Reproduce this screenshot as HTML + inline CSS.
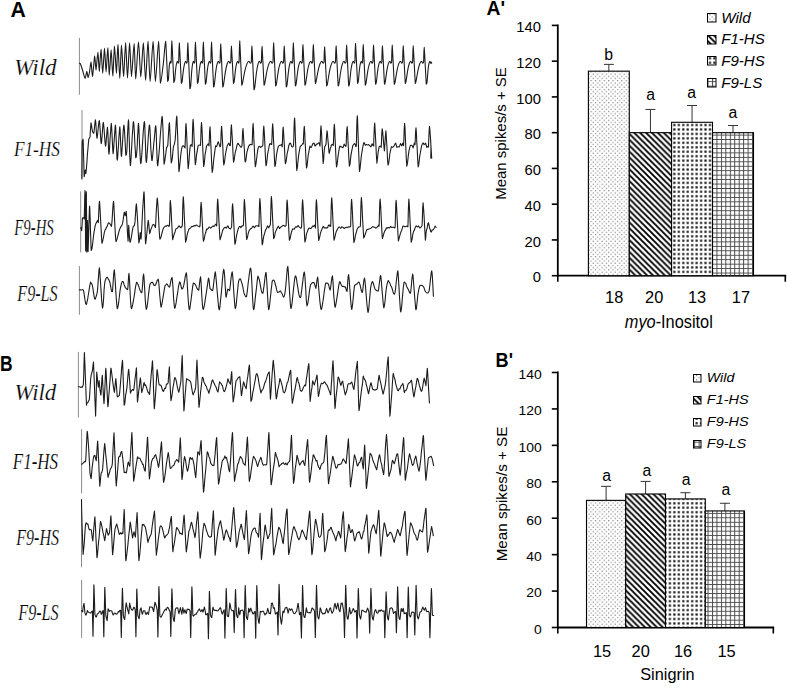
<!DOCTYPE html><html><head><meta charset="utf-8"><style>html,body{margin:0;padding:0;background:#fff;overflow:hidden;width:787px;height:688px;}svg{display:block;}</style></head><body>
<svg width="787" height="688" viewBox="0 0 787 688">
<defs>
<pattern id="pw" patternUnits="userSpaceOnUse" width="4.4" height="4.4" x="0" y="0"><rect x="1" y="1" width="1" height="1" fill="#5a5a5a"/><rect x="3.2" y="3.2" width="1" height="1" fill="#5a5a5a"/></pattern>
<pattern id="pf1" patternUnits="userSpaceOnUse" width="5.9" height="5.9"><path d="M-1,-1L6.9,6.9M-1,4.9L1,6.9M4.9,-1L6.9,1" stroke="#000" stroke-width="1.9"/></pattern>
<pattern id="pf9h" patternUnits="userSpaceOnUse" x="0.2" y="2.65" width="4.45" height="4.45"><rect x="1.15" y="1.15" width="2.15" height="2.15" fill="#111"/></pattern>
<pattern id="pf9l" patternUnits="userSpaceOnUse" y="1.15" width="4.45" height="4.45"><path d="M0,0.5H4.45M0.5,0V4.45" stroke="#484848" stroke-width="1"/></pattern>
<pattern id="lpw" patternUnits="userSpaceOnUse" width="3" height="3"><rect x="1" y="1" width="1" height="1" fill="#777"/></pattern>
</defs>
<rect width="787" height="688" fill="#fff"/>
<text x="10.4" y="16.6" font-family="Liberation Sans" font-size="21.2" font-weight="bold" font-style="normal" text-anchor="start" fill="#000" >A</text>
<text x="0" y="370.8" font-family="Liberation Sans" font-size="21.8" font-weight="bold" font-style="normal" text-anchor="start" fill="#000" textLength="12.6" lengthAdjust="spacingAndGlyphs">B</text>
<text x="486.6" y="15.2" font-family="Liberation Sans" font-size="19.8" font-weight="bold" font-style="normal" text-anchor="start" fill="#000" textLength="18.6" lengthAdjust="spacingAndGlyphs">A'</text>
<text x="495.6" y="367.4" font-family="Liberation Sans" font-size="21" font-weight="bold" font-style="normal" text-anchor="start" fill="#000" textLength="17.4" lengthAdjust="spacingAndGlyphs">B'</text>
<text x="14.2" y="74.6" font-family="Liberation Serif" font-size="22.42" font-weight="normal" font-style="italic" text-anchor="start" fill="#000" textLength="42.5" lengthAdjust="spacingAndGlyphs" stroke="#fff" stroke-width="0.2">Wild</text>
<text x="13.9" y="156.2" font-family="Liberation Serif" font-size="21.52" font-weight="normal" font-style="italic" text-anchor="start" fill="#000" textLength="46.1" lengthAdjust="spacingAndGlyphs" stroke="#fff" stroke-width="0.2">F1-HS</text>
<text x="14.3" y="234.8" font-family="Liberation Serif" font-size="23.64" font-weight="normal" font-style="italic" text-anchor="start" fill="#000" textLength="39.4" lengthAdjust="spacingAndGlyphs" stroke="#fff" stroke-width="0.2">F9-HS</text>
<text x="17.3" y="300.5" font-family="Liberation Serif" font-size="22.58" font-weight="normal" font-style="italic" text-anchor="start" fill="#000" textLength="40.3" lengthAdjust="spacingAndGlyphs" stroke="#fff" stroke-width="0.2">F9-LS</text>
<text x="14.4" y="400.2" font-family="Liberation Serif" font-size="22.88" font-weight="normal" font-style="italic" text-anchor="start" fill="#000" textLength="41.9" lengthAdjust="spacingAndGlyphs" stroke="#fff" stroke-width="0.2">Wild</text>
<text x="12.8" y="468.8" font-family="Liberation Serif" font-size="23.94" font-weight="normal" font-style="italic" text-anchor="start" fill="#000" textLength="45.3" lengthAdjust="spacingAndGlyphs" stroke="#fff" stroke-width="0.2">F1-HS</text>
<text x="16.3" y="544.8" font-family="Liberation Serif" font-size="23.18" font-weight="normal" font-style="italic" text-anchor="start" fill="#000" textLength="42.7" lengthAdjust="spacingAndGlyphs" stroke="#fff" stroke-width="0.2">F9-HS</text>
<text x="18.3" y="619.7" font-family="Liberation Serif" font-size="23.48" font-weight="normal" font-style="italic" text-anchor="start" fill="#000" textLength="40.3" lengthAdjust="spacingAndGlyphs" stroke="#fff" stroke-width="0.2">F9-LS</text>
<line x1="79.4" y1="37.9" x2="79.4" y2="94.8" stroke="#8c8c8c" stroke-width="1"/>
<line x1="82" y1="110" x2="82" y2="177.8" stroke="#8c8c8c" stroke-width="1"/>
<line x1="80.7" y1="191.4" x2="80.7" y2="252.4" stroke="#8c8c8c" stroke-width="1"/>
<line x1="79.4" y1="266" x2="79.4" y2="314.8" stroke="#8c8c8c" stroke-width="1"/>
<line x1="78.4" y1="351.9" x2="78.4" y2="417.6" stroke="#8c8c8c" stroke-width="1"/>
<line x1="81.6" y1="429.1" x2="81.6" y2="493.4" stroke="#8c8c8c" stroke-width="1"/>
<line x1="81.5" y1="499.2" x2="81.5" y2="567.2" stroke="#8c8c8c" stroke-width="1"/>
<line x1="81.6" y1="579.9" x2="81.6" y2="637.9" stroke="#8c8c8c" stroke-width="1"/>
<path d="M79.4,63.3C79.53,63.35 79.99,63.3 80.4,63.7C80.81,64.59 81.87,68.05 82.5,70C83.13,71.95 84.53,78.13 85.1,78.3C85.67,78.3 86.4,71.39 86.8,71.3C87.2,71.3 87.74,77.51 88.1,77.6C88.46,77.6 89.11,74.07 89.5,72C89.89,69.93 90.6,62.1 91,62.1C91.4,62.69 92.01,76.4 92.5,76.4C92.99,75.59 94.23,56.85 94.7,56C95.17,56 95.57,70 96,70C96.43,69.49 97.46,52.2 97.9,52.2C98.34,52.37 98.89,71.3 99.3,71.3C99.71,70.91 100.55,49.3 101,49.3C101.45,49.55 102.23,73.2 102.7,73.2C103.17,73.05 104.05,48.37 104.5,48.2C104.95,48.2 105.66,71.9 106.1,71.9C106.54,71.85 107.37,47.8 107.8,47.8C108.23,48.23 108.86,74.82 109.3,75.1C109.74,75.1 110.63,49.9 111.1,49.9C111.57,50.02 112.35,76 112.8,76C113.25,75.52 114.02,46.67 114.5,46.3C114.98,46.3 115.95,73.2 116.4,73.2C116.85,72.97 117.45,44.6 117.9,44.6C118.35,45.28 119.32,78.22 119.8,78.3C120.28,78.3 120.99,45.45 121.5,45.2C122.01,45.2 123.05,76.4 123.6,76.4C124.15,76.07 125.08,42.7 125.6,42.7C126.12,42.91 126.97,77.96 127.5,78C128.03,78 129.07,43.21 129.6,43C130.13,43 130.9,76.31 131.5,76.4C132.1,76.4 133.54,43.7 134.1,43.7C134.66,44.03 135.11,78.9 135.7,78.9C136.29,78.69 137.82,42.35 138.5,42.1C139.18,42.1 140.16,76.88 140.8,77C141.44,77 142.66,43 143.3,43C143.94,43.43 144.97,80.2 145.6,80.2C146.23,79.99 147.4,41.4 148,41.4C148.6,41.57 149.42,81.5 150.1,81.5C150.78,81.5 152.39,41.4 153.1,41.4C153.81,41.4 154.67,81.5 155.4,81.5C156.13,81.5 157.92,41.4 158.6,41.4C159.28,41.61 159.85,80.35 160.5,83.1C161.15,83.1 162.82,67.59 163.5,62C164.18,56.41 165.04,41.2 165.6,41.2C166.16,43.8 167.32,76.42 167.7,81.5C168.08,81.5 168.27,80.95 168.45,79.3C168.63,77.65 168.89,71.26 169.05,69.15C169.21,67.04 169.46,64.5 169.62,63.45C169.79,62.4 170.16,61.32 170.32,61.3C170.49,61.3 170.73,63.21 170.85,63.3C170.97,63.3 171.07,63.3 171.2,62C171.33,58.99 171.44,40.7 171.8,40.7C172.16,43.43 173.52,77.22 173.9,82.5C174.28,82.5 174.42,82.03 174.65,80.3C174.88,78.57 175.39,71.74 175.64,69.5C175.89,67.26 176.29,64.59 176.54,63.5C176.79,62.41 177.28,61.33 177.5,61.3C177.72,61.3 178.06,63.21 178.22,63.3C178.38,63.3 178.56,63.3 178.7,62C178.84,59.27 178.94,42.8 179.3,42.8C179.66,45.65 181.02,78.28 181.4,83.4C181.78,83.4 181.88,83.01 182.15,81.2C182.42,79.39 183.11,72.17 183.44,69.81C183.77,67.46 184.28,64.68 184.59,63.55C184.9,62.41 185.48,61.33 185.75,61.3C186.02,61.3 186.43,63.21 186.62,63.3C186.81,63.3 187.04,63.3 187.2,62C187.36,59.27 187.44,42.8 187.8,42.8C188.16,46.36 189.52,82.87 189.9,88.7C190.28,88.7 190.41,88.7 190.65,86.5C190.89,84.23 191.41,74.7 191.67,71.67C191.93,68.64 192.34,65.19 192.59,63.81C192.85,62.43 193.35,61.37 193.57,61.3C193.8,61.3 194.15,63.21 194.31,63.3C194.47,63.3 194.65,63.3 194.8,62C194.95,59.17 195.04,42.1 195.4,42.1C195.76,44.95 197.12,78.19 197.5,83.4C197.88,83.4 198,83.01 198.25,81.2C198.5,79.39 199.08,72.17 199.36,69.81C199.64,67.46 200.09,64.68 200.36,63.55C200.63,62.41 201.16,61.33 201.4,61.3C201.64,61.3 202.01,63.21 202.18,63.3C202.35,63.3 202.55,63.3 202.7,62C202.85,59.17 202.94,42.1 203.3,42.1C203.66,45.07 205.02,78.97 205.4,84.3C205.78,84.3 205.89,83.99 206.15,82.1C206.41,80.21 207.05,72.6 207.35,70.13C207.65,67.66 208.14,64.77 208.43,63.59C208.72,62.41 209.27,61.34 209.53,61.3C209.78,61.3 210.17,63.21 210.35,63.3C210.53,63.3 210.75,63.3 210.9,62C211.05,59.17 211.14,42.1 211.5,42.1C211.86,45.43 213.22,81.31 213.6,87C213.98,87 214.05,86.92 214.35,84.8C214.65,82.68 215.47,73.89 215.85,71.08C216.23,68.27 216.82,65.03 217.17,63.73C217.52,62.42 218.17,61.36 218.47,61.3C218.78,61.3 219.23,63.21 219.45,63.3C219.67,63.3 219.93,63.3 220.1,62C220.27,59.41 220.34,43.9 220.7,43.9C221.06,47.23 222.42,81.55 222.8,87C223.18,87 223.19,86.92 223.55,84.8C223.91,82.68 225.01,73.89 225.5,71.08C225.99,68.27 226.76,65.03 227.2,63.73C227.64,62.42 228.43,61.36 228.8,61.3C229.17,61.3 229.73,63.21 230,63.3C230.27,63.3 230.61,63.3 230.8,62C230.99,59.69 231.04,46 231.4,46C231.76,48.85 233.12,78.71 233.5,83.4C233.88,83.4 233.99,83.01 234.25,81.2C234.51,79.39 235.17,72.17 235.48,69.81C235.79,67.46 236.28,64.68 236.58,63.55C236.88,62.41 237.44,61.33 237.7,61.3C237.96,61.3 238.35,63.21 238.54,63.3C238.73,63.3 238.95,63.3 239.1,62C239.25,58.99 239.34,40.7 239.7,40.7C240.06,43.79 241.42,79.56 241.8,85.2C242.18,85.2 242.13,84.97 242.55,83C242.97,81.03 244.35,73.03 244.95,70.44C245.55,67.86 246.5,64.85 247.03,63.63C247.56,62.42 248.48,61.34 248.92,61.3C249.37,61.3 250.03,63.21 250.35,63.3C250.67,63.3 251.09,63.3 251.3,62C251.51,59.69 251.54,46 251.9,46C252.26,49.68 253.62,84.08 254,89.6C254.38,89.6 254.41,89.6 254.75,87.4C255.09,85.05 256.08,75.12 256.52,71.98C256.96,68.85 257.67,65.28 258.07,63.85C258.47,62.43 259.2,61.37 259.55,61.3C259.9,61.3 260.41,63.21 260.66,63.3C260.91,63.3 261.22,63.3 261.4,62C261.58,59.75 261.64,46.4 262,46.4C262.36,49.49 263.72,80.32 264.1,85.2C264.48,85.2 264.45,84.97 264.85,83C265.25,81.03 266.52,73.03 267.07,70.44C267.62,67.86 268.5,64.85 269,63.63C269.49,62.42 270.36,61.34 270.78,61.3C271.19,61.3 271.81,63.21 272.11,63.3C272.41,63.3 272.8,63.3 273,62C273.2,59.27 273.24,42.8 273.6,42.8C273.96,46 275.32,80.53 275.7,86C276.08,86 276.09,85.84 276.45,83.8C276.81,81.76 277.89,73.41 278.37,70.72C278.85,68.04 279.61,64.93 280.05,63.67C280.48,62.42 281.26,61.35 281.62,61.3C281.99,61.3 282.55,63.21 282.81,63.3C283.07,63.3 283.41,63.3 283.6,62C283.79,59.69 283.84,46 284.2,46C284.56,49.33 285.92,81.83 286.3,87C286.68,87 286.75,86.92 287.05,84.8C287.35,82.68 288.15,73.89 288.52,71.08C288.89,68.27 289.48,65.03 289.82,63.73C290.16,62.42 290.8,61.36 291.1,61.3C291.4,61.3 291.85,63.21 292.06,63.3C292.27,63.3 292.53,63.3 292.7,62C292.87,59.27 292.94,42.8 293.3,42.8C293.66,46 295.02,80.53 295.4,86C295.78,86 295.83,85.84 296.15,83.8C296.47,81.76 297.36,73.41 297.77,70.72C298.18,68.04 298.82,64.93 299.19,63.67C299.57,62.42 300.25,61.35 300.57,61.3C300.9,61.3 301.38,63.21 301.61,63.3C301.84,63.3 302.13,63.3 302.3,62C302.47,59.51 302.54,44.6 302.9,44.6C303.26,47.69 304.62,80.08 305,85.2C305.38,85.2 305.4,84.97 305.75,83C306.1,81.03 307.15,73.03 307.61,70.44C308.07,67.86 308.81,64.85 309.24,63.63C309.66,62.42 310.42,61.34 310.78,61.3C311.13,61.3 311.67,63.21 311.93,63.3C312.19,63.3 312.52,63.3 312.7,62C312.88,59.51 312.94,44.6 313.3,44.6C313.66,47.45 315.02,78.52 315.4,83.4C315.78,83.4 315.77,83.01 316.15,81.2C316.53,79.39 317.75,72.17 318.28,69.81C318.81,67.46 319.65,64.68 320.13,63.55C320.61,62.41 321.45,61.33 321.85,61.3C322.25,61.3 322.85,63.21 323.14,63.3C323.43,63.3 323.81,63.3 324,62C324.19,59.81 324.24,46.9 324.6,46.9C324.96,50.1 326.32,81.08 326.7,86C327.08,86 327.06,85.84 327.45,83.8C327.84,81.76 329.09,73.41 329.64,70.72C330.19,68.04 331.05,64.93 331.54,63.67C332.03,62.42 332.89,61.35 333.3,61.3C333.71,61.3 334.33,63.21 334.62,63.3C334.91,63.3 335.3,63.3 335.5,62C335.7,59.65 335.74,45.7 336.1,45.7C336.46,48.9 337.82,80.92 338.2,86C338.58,86 338.6,85.84 338.95,83.8C339.3,81.76 340.37,73.41 340.84,70.72C341.31,68.04 342.06,64.93 342.49,63.67C342.92,62.42 343.69,61.35 344.05,61.3C344.41,61.3 344.96,63.21 345.22,63.3C345.48,63.3 345.82,63.3 346,62C346.18,59.57 346.24,45.1 346.6,45.1C346.96,48.3 348.32,80.84 348.7,86C349.08,86 349.16,85.84 349.45,83.8C349.74,81.76 350.51,73.41 350.86,70.72C351.21,68.04 351.78,64.93 352.11,63.67C352.44,62.42 353.06,61.35 353.35,61.3C353.64,61.3 354.07,63.21 354.28,63.3C354.49,63.3 354.74,63.3 354.9,62C355.06,59.33 355.14,43.3 355.5,43.3C355.86,46.15 357.22,78.35 357.6,83.4C357.98,83.4 358.11,83.01 358.35,81.2C358.59,79.39 359.13,72.17 359.4,69.81C359.67,67.46 360.09,64.68 360.35,63.55C360.61,62.41 361.12,61.33 361.35,61.3C361.58,61.3 361.93,63.21 362.1,63.3C362.27,63.3 362.45,63.3 362.6,62C362.75,59.51 362.84,44.6 363.2,44.6C363.56,47.69 364.92,80.08 365.3,85.2C365.68,85.2 365.71,84.97 366.05,83C366.39,81.03 367.42,73.03 367.88,70.44C368.34,67.86 369.06,64.85 369.48,63.63C369.9,62.42 370.65,61.34 371,61.3C371.35,61.3 371.89,63.21 372.14,63.3C372.39,63.3 372.72,63.3 372.9,62C373.08,59.57 373.14,45.1 373.5,45.1C373.86,48.07 375.22,79.37 375.6,84.3C375.98,84.3 376.06,83.99 376.35,82.1C376.64,80.21 377.41,72.6 377.76,70.13C378.11,67.66 378.68,64.77 379.01,63.59C379.34,62.41 379.96,61.34 380.25,61.3C380.54,61.3 380.97,63.21 381.18,63.3C381.39,63.3 381.64,63.3 381.8,62C381.96,59.65 382.04,45.7 382.4,45.7C382.76,48.67 384.12,79.45 384.5,84.3C384.88,84.3 384.93,83.99 385.25,82.1C385.57,80.21 386.51,72.6 386.93,70.13C387.35,67.66 388.02,64.77 388.41,63.59C388.79,62.41 389.49,61.34 389.82,61.3C390.16,61.3 390.65,63.21 390.89,63.3C391.13,63.3 391.43,63.3 391.6,62C391.77,59.57 391.84,45.1 392.2,45.1C392.56,48.07 393.92,79.37 394.3,84.3C394.68,84.3 394.68,83.99 395.05,82.1C395.42,80.21 396.58,72.6 397.09,70.13C397.6,67.66 398.41,64.77 398.87,63.59C399.32,62.41 400.14,61.34 400.53,61.3C400.91,61.3 401.49,63.21 401.77,63.3C402.05,63.3 402.41,63.3 402.6,62C402.79,59.65 402.84,45.7 403.2,45.7C403.56,48.55 404.92,78.67 405.3,83.4C405.68,83.4 405.72,83.01 406.05,81.2C406.38,79.39 407.35,72.17 407.79,69.81C408.23,67.46 408.92,64.68 409.31,63.55C409.71,62.41 410.43,61.33 410.78,61.3C411.12,61.3 411.63,63.21 411.87,63.3C412.11,63.3 412.42,63.3 412.6,62C412.78,59.65 412.84,45.7 413.2,45.7C413.56,48.55 414.92,78.67 415.3,83.4C415.68,83.4 415.68,83.01 416.05,81.2C416.42,79.39 417.58,72.17 418.09,69.81C418.6,67.46 419.41,64.68 419.87,63.55C420.32,62.41 421.14,61.33 421.53,61.3C421.91,61.3 422.49,63.21 422.77,63.3C423.05,63.3 423.41,63.3 423.6,62C423.79,59.88 423.84,47.4 424.2,47.4C424.56,50.37 425.92,79.67 426.3,84.3C426.68,84.3 426.82,83.99 427.05,82.1C427.28,80.21 427.79,72.6 428.04,70.13C428.29,67.66 428.69,64.77 428.94,63.59C429.19,62.41 429.68,61.34 429.9,61.3C430.12,61.3 430.46,63.21 430.62,63.3C430.78,63.3 430.96,62 431.1,62C431.24,62 431.62,63.13 431.7,63.3" fill="none" stroke="#1c1c1c" stroke-width="1.1" stroke-linejoin="round" stroke-linecap="round"/>
<path d="M81.9,178.9 81.9,171.8 82.0,161.1 82.0,152.9 82.1,145.6 82.3,140.9 82.7,140.3 83.1,139.3 83.3,144.4 83.5,152.9 83.8,162.9 84.0,171.6 84.2,176.7 84.7,173.7 85.2,170.1 85.5,171.8 85.9,173.5 86.3,169.8 86.8,163.8 87.2,157.9 87.5,153.2 88.0,148.0 88.4,143.0 88.7,139.5 89.4,138.1 90.0,136.9 90.5,129.1 91.0,122.9 91.5,125.1 92.0,128.8 92.5,131.7 93.1,132.7 93.8,133.2 94.3,129.2 94.9,123.2 95.4,119.8 95.8,122.9 96.2,129.3 96.6,135.5 97.0,138.3 97.4,136.2 97.9,131.5 98.4,126.2 98.9,122.0 99.3,120.6 99.7,123.4 100.1,128.9 100.5,135.5 100.9,141.1 101.2,143.7 101.6,141.9 102.0,136.9 102.5,130.1 102.9,124.5 103.3,122.3 103.6,124.1 104.0,128.4 104.4,133.9 104.8,139.5 105.2,144.0 105.5,146.2 105.9,144.5 106.3,139.4 106.8,133.5 107.2,129.0 107.5,127.2 107.8,130.7 108.1,137.7 108.4,145.7 108.7,151.9 109.0,154.3 109.3,151.5 109.7,145.2 110.1,138.0 110.6,131.3 111.0,125.8 111.3,123.4 111.6,126.5 112.0,133.8 112.4,142.7 112.8,150.4 113.1,153.8 113.4,151.6 113.8,146.4 114.2,139.7 114.7,133.1 115.1,127.5 115.4,125.1 115.7,127.4 115.9,132.8 116.2,139.9 116.5,147.3 116.8,153.8 117.0,158.6 117.3,160.1 117.6,158.2 117.9,153.9 118.2,149.0 118.6,143.6 118.9,137.7 119.3,132.4 119.6,128.5 119.8,126.8 120.1,129.7 120.4,137.1 120.8,146.0 121.1,153.4 121.4,156.5 121.7,154.7 122.0,150.3 122.4,144.5 122.8,137.9 123.2,131.3 123.6,126.6 123.9,125.0 124.2,127.3 124.6,132.0 124.9,138.3 125.3,145.2 125.6,151.5 125.8,155.2 126.3,154.9 126.8,151.4 127.1,146.1 127.4,137.8 127.8,129.2 128.2,122.5 128.5,119.9 128.7,122.6 128.9,128.2 129.1,135.7 129.4,143.8 129.6,151.9 129.9,158.9 130.2,163.7 130.4,165.6 130.6,164.2 130.9,160.8 131.2,155.8 131.5,149.7 131.9,143.4 132.2,137.0 132.6,131.3 132.9,126.7 133.2,123.3 133.4,121.5 133.7,122.9 134.1,127.7 134.5,134.9 134.8,142.5 135.2,149.0 135.5,154.1 135.7,157.6 136.2,157.2 136.6,154.1 137.0,149.3 137.3,144.8 137.5,138.4 137.9,131.7 138.2,125.9 138.5,123.3 138.7,125.5 139.0,130.2 139.2,136.6 139.5,143.9 139.9,151.1 140.2,157.4 140.5,161.9 140.8,163.7 141.1,162.6 141.4,159.3 141.8,154.6 142.2,148.6 142.6,142.1 143.0,135.8 143.4,130.0 143.8,125.5 144.1,122.6 144.4,121.6 144.7,123.7 144.9,128.6 145.1,135.3 145.4,142.6 145.6,150.0 145.8,156.5 146.1,160.9 146.3,162.5 146.6,160.8 146.9,157.5 147.2,153.1 147.6,147.6 148.0,141.2 148.4,135.2 148.8,130.3 149.1,126.9 149.4,125.0 149.7,126.0 150.0,129.8 150.3,136.0 150.6,143.1 150.9,149.4 151.3,154.7 151.6,158.5 151.9,160.6 152.2,160.1 152.5,157.4 152.9,153.1 153.4,148.2 153.8,143.1 154.3,138.5 154.7,134.5 155.1,129.9 155.4,126.6 155.7,125.7 156.0,128.5 156.3,134.5 156.5,142.5 156.8,151.0 157.1,158.9 157.4,164.1 157.7,165.8 157.9,164.4 158.2,162.0 158.5,158.4 158.9,154.2 159.3,149.8 159.7,144.5 160.1,138.5 160.5,133.0 160.9,128.3 161.3,123.8 161.6,119.8 161.9,117.1 162.1,116.3 162.4,118.4 162.7,123.6 163.0,130.5 163.2,138.5 163.4,146.8 163.7,154.6 163.9,160.7 164.1,164.2 164.4,163.2 164.9,160.0 165.3,156.6 165.8,153.9 166.2,150.3 166.5,147.5 167.2,146.8 167.8,145.6 168.1,140.0 168.6,132.2 169.0,125.4 169.4,122.7 169.6,125.3 169.8,130.2 170.1,136.2 170.3,142.8 170.6,149.3 170.8,155.4 171.1,160.3 171.3,162.9 171.7,161.7 172.2,158.8 172.7,154.3 173.1,149.7 173.5,146.4 174.4,144.1 175.2,139.9 175.6,133.9 176.0,125.9 176.4,118.8 176.8,116.1 177.0,119.0 177.2,124.4 177.5,131.5 177.8,139.7 178.0,148.2 178.3,156.3 178.6,163.5 178.8,168.8 179.0,171.7 179.5,167.9 180.1,161.9 180.6,156.5 181.1,152.2 181.7,148.7 182.2,146.5 182.9,145.9 183.6,145.8 184.3,147.1 185.0,147.8 185.2,142.7 185.5,134.5 185.7,126.9 186.0,123.5 186.2,126.1 186.5,131.1 186.8,137.9 187.1,145.6 187.4,153.3 187.7,160.2 188.0,165.6 188.2,168.6 188.8,163.6 189.3,156.0 189.8,150.1 190.3,145.6 191.1,144.7 191.7,145.2 191.9,145.9 192.1,146.5 192.3,141.2 192.5,132.1 192.8,123.5 193.1,119.4 193.3,122.0 193.6,127.2 193.9,134.2 194.2,141.6 194.5,149.1 194.8,155.9 195.1,161.4 195.3,164.6 195.8,162.1 196.3,157.0 196.7,153.9 197.4,149.8 198.1,145.7 198.7,145.4 199.2,145.0 199.9,145.0 200.5,145.4 200.8,138.5 201.1,128.3 201.5,122.5 201.7,124.8 202.0,129.6 202.3,136.2 202.6,143.6 202.9,151.2 203.2,158.0 203.5,163.3 203.7,166.4 204.2,164.0 204.7,158.7 205.1,154.3 205.6,151.7 206.1,148.7 206.5,146.2 207.4,144.8 208.2,143.9 208.6,144.8 209.0,145.9 209.3,140.0 209.6,131.3 210.0,126.7 210.2,129.6 210.5,135.0 210.7,141.9 211.1,149.3 211.4,156.8 211.7,163.7 212.0,169.3 212.2,172.4 212.8,169.4 213.4,163.1 213.9,157.9 214.5,153.7 215.1,149.0 215.6,145.9 216.1,146.2 216.7,146.5 217.4,144.1 218.2,141.7 219.2,144.4 220.0,146.8 220.3,146.5 220.6,145.9 220.9,139.9 221.2,131.2 221.6,126.2 221.8,128.7 222.1,134.0 222.5,141.0 222.9,148.6 223.2,155.9 223.5,161.7 223.8,164.9 224.4,162.6 225.0,157.7 225.5,154.0 226.0,151.3 226.7,148.2 227.2,145.8 228.0,144.2 228.7,143.1 229.2,143.8 229.7,145.6 230.1,145.8 230.4,144.9 230.7,138.5 231.0,129.5 231.4,124.7 231.6,127.2 231.9,132.2 232.3,138.8 232.7,146.2 233.0,153.3 233.3,158.9 233.6,162.1 234.2,159.9 234.8,155.2 235.3,152.3 236.2,148.9 237.0,145.3 237.6,143.6 238.2,143.3 238.7,144.6 239.2,144.9 239.8,145.7 240.5,147.0 241.3,147.3 242.0,145.8 242.3,140.1 242.6,132.1 243.0,128.6 243.2,131.4 243.5,136.6 243.9,142.3 244.3,148.5 244.6,154.4 244.9,159.2 245.2,162.0 245.8,160.9 246.4,156.2 246.9,152.3 247.8,149.0 248.6,146.4 249.4,145.1 250.1,144.3 250.9,144.7 251.6,144.6 251.9,144.7 252.1,144.7 252.4,138.2 252.7,128.6 253.1,123.6 253.3,126.3 253.6,131.5 253.8,138.2 254.2,145.2 254.5,152.1 254.8,158.5 255.1,163.7 255.3,166.8 255.9,164.4 256.5,159.5 257.0,155.8 257.5,151.6 258.2,147.8 258.7,146.6 259.6,146.3 260.5,147.5 261.4,146.7 262.2,146.2 262.5,146.1 262.8,145.3 263.1,139.1 263.4,130.5 263.8,126.0 264.0,128.2 264.3,132.6 264.6,138.6 264.9,145.3 265.2,152.1 265.5,158.2 265.8,162.9 266.0,165.8 266.5,164.3 267.1,159.4 267.5,154.9 268.0,152.2 268.6,149.0 269.1,146.5 269.6,144.1 270.2,143.5 271.0,144.4 271.7,144.5 272.0,138.0 272.3,128.8 272.7,123.9 272.9,126.3 273.2,131.0 273.4,137.3 273.8,144.4 274.1,151.6 274.4,158.2 274.7,163.4 274.9,166.5 275.5,164.5 276.1,158.7 276.6,154.4 277.1,151.6 277.8,148.3 278.3,146.5 279.1,145.6 279.9,145.2 280.8,145.2 281.6,144.4 281.9,145.6 282.2,146.9 282.5,140.6 282.8,131.4 283.2,127.0 283.4,129.7 283.7,134.6 284.1,141.0 284.5,148.1 284.8,155.1 285.1,160.6 285.4,163.7 286.0,162.0 286.6,157.9 287.1,153.9 288.0,149.8 288.8,145.7 289.7,143.2 290.5,143.1 291.1,144.8 291.6,146.4 292.4,147.1 293.0,146.6 293.3,146.2 293.6,144.4 293.8,138.4 294.0,129.3 294.3,121.2 294.6,118.1 294.8,120.9 295.0,125.9 295.2,132.6 295.5,140.4 295.8,148.3 296.1,155.9 296.4,162.6 296.6,167.6 296.8,170.4 297.4,167.2 298.0,161.3 298.5,156.1 299.1,152.7 299.7,149.2 300.2,146.6 300.7,145.9 301.3,145.6 302.1,144.5 302.9,143.3 303.1,143.6 303.3,143.9 303.5,138.3 303.9,130.3 304.3,126.4 304.5,128.9 304.8,133.6 305.0,139.9 305.4,146.6 305.7,153.3 306.0,159.6 306.3,164.9 306.5,168.0 307.1,165.8 307.7,160.3 308.2,155.1 308.8,152.2 309.4,148.9 309.9,146.1 310.5,147.0 311.2,147.4 312.0,145.8 312.8,143.8 313.4,143.4 314.0,143.1 314.5,144.3 315.0,146.0 315.6,145.8 316.2,144.5 316.8,144.1 317.5,143.9 318.3,143.2 319.1,142.8 319.6,144.8 320.0,146.1 320.3,139.9 320.6,130.6 321.0,125.8 321.2,128.5 321.6,133.8 321.9,140.7 322.3,148.1 322.7,155.2 323.0,160.5 323.2,163.4 323.7,159.1 324.0,153.1 324.4,149.1 324.8,146.4 325.4,145.7 326.0,144.0 326.5,136.7 327.0,130.7 327.4,133.2 327.8,138.5 328.4,144.8 328.8,150.5 329.2,153.5 329.8,150.8 330.3,148.5 330.9,147.0 331.4,145.2 332.1,144.5 332.8,144.3 333.1,145.1 333.3,145.5 333.6,139.0 333.9,129.5 334.3,124.2 334.5,126.4 334.8,130.9 335.0,137.5 335.4,144.9 335.7,152.2 336.0,158.8 336.3,164.0 336.5,166.9 337.1,164.7 337.7,159.3 338.2,155.1 338.7,152.0 339.4,147.5 339.9,146.0 340.8,146.9 341.7,146.8 342.3,147.3 342.9,147.7 343.5,146.4 344.1,144.1 345.0,145.5 345.8,146.3 346.0,145.9 346.2,144.2 346.4,138.1 346.8,129.9 347.2,126.5 347.4,129.2 347.7,133.8 347.9,139.7 348.3,146.3 348.6,152.8 348.9,158.6 349.2,163.2 349.4,166.2 350.0,164.4 350.6,158.4 351.1,154.4 351.6,151.7 352.3,148.2 352.8,145.7 353.7,144.3 354.6,143.5 355.3,144.5 355.8,146.3 356.1,146.7 356.3,145.9 356.5,139.4 356.7,129.3 357.0,119.9 357.3,115.7 357.5,118.3 357.7,123.3 357.9,130.1 358.2,138.3 358.5,146.9 358.8,155.2 359.1,162.5 359.3,168.1 359.5,171.5 360.1,168.3 360.7,162.1 361.2,157.1 361.8,153.0 362.4,149.3 362.9,146.5 363.5,143.6 364.1,142.4 364.7,143.8 365.2,145.3 365.8,144.7 366.4,144.6 367.0,144.8 367.7,145.0 368.6,144.5 369.5,145.5 370.2,146.2 370.9,146.8 371.5,145.3 372.1,143.8 373.0,145.6 373.8,146.0 373.8,145.9 373.7,144.3 373.9,137.2 374.3,127.8 374.7,123.0 374.9,125.9 375.2,131.6 375.6,138.9 376.0,146.8 376.3,154.2 376.7,159.9 376.9,163.1 377.5,158.5 378.1,152.5 378.7,149.1 379.2,146.6 379.8,146.4 380.4,146.0 380.8,146.8 381.2,147.3 381.5,141.5 381.8,133.0 382.2,128.8 382.6,131.1 383.1,136.6 383.6,143.1 384.1,148.0 384.4,151.0 384.6,149.7 384.6,147.7 384.7,147.1 384.8,145.4 385.3,137.4 385.9,130.8 386.1,133.4 386.4,138.4 386.8,144.8 387.2,151.9 387.5,158.5 387.8,162.9 388.1,165.1 388.7,163.0 389.3,158.7 389.8,154.0 390.4,151.2 391.0,148.4 391.5,146.6 392.1,147.0 392.7,147.3 393.5,146.8 394.4,145.3 395.1,143.7 395.7,143.2 396.2,144.9 396.7,147.2 397.3,146.9 397.9,146.7 398.5,146.9 399.1,147.0 399.9,145.2 400.6,143.5 401.2,144.6 401.7,145.9 402.3,144.6 402.8,143.1 403.2,144.3 403.6,145.6 403.9,138.9 404.2,129.1 404.6,123.4 404.8,125.4 405.1,129.8 405.3,136.6 405.7,144.4 406.0,152.1 406.3,158.4 406.6,163.3 406.8,166.2 407.4,163.7 408.0,158.6 408.5,154.1 409.0,150.7 409.7,147.9 410.2,145.8 411.1,145.2 411.9,145.3 412.5,146.3 413.1,147.9 413.7,145.6 414.3,143.0 414.6,143.6 415.0,144.8 415.3,139.5 415.6,131.7 416.0,127.8 416.2,130.4 416.5,134.9 416.7,140.5 417.1,146.8 417.4,153.5 417.7,159.5 418.0,164.1 418.2,166.9 418.8,164.5 419.4,159.1 419.9,155.0 420.5,152.2 421.1,148.3 421.6,145.9 422.3,144.1 423.0,143.0 423.5,143.1 424.1,144.7 424.8,144.1 425.6,143.2 426.2,145.2 426.8,147.4 427.8,146.5 428.6,146.6 428.6,146.9 428.5,147.1 428.7,140.7 429.1,131.5 429.5,126.4 429.8,128.7 430.2,134.2 430.7,141.4 431.1,148.9 431.5,155.0 431.7,158.3 431.5,155.5 431.3,151.4 431.1,148.2 430.9,146.2 430.9,151.8 430.8,157.9" fill="none" stroke="#1c1c1c" stroke-width="1.1" stroke-linejoin="round" stroke-linecap="round"/>
<path d="M80.9,227.5 81.3,229.1 81.7,230.6 82.1,224.3 82.5,217.7 83.0,217.7 83.5,217.8 83.9,218.6 84.2,219.1 84.4,213.1 84.6,203.5 84.8,194.6 85.0,190.6 85.1,194.5 85.2,201.9 85.3,211.7 85.4,222.5 85.5,233.1 85.5,242.2 85.6,248.6 85.7,251.0 85.8,247.8 85.9,239.4 86.0,227.7 86.1,215.1 86.1,203.4 86.2,195.0 86.3,191.8 86.4,194.3 86.4,200.9 86.5,210.3 86.6,220.8 86.7,231.5 86.8,241.2 86.8,248.5 86.9,252.1 87.1,243.8 87.3,228.6 87.5,220.5 87.7,228.5 87.9,243.4 88.1,251.5 88.2,248.6 88.4,242.2 88.7,233.7 88.9,224.5 89.2,215.5 89.4,208.8 89.6,206.1 89.8,208.2 90.0,214.2 90.3,222.4 90.5,231.4 90.8,239.8 91.0,246.6 91.2,250.5 91.9,248.9 92.5,244.8 93.0,240.5 93.5,236.1 94.0,232.4 94.5,229.7 95.1,226.1 95.7,224.1 96.6,222.3 97.5,220.4 97.9,221.3 98.3,222.7 98.5,218.6 98.8,211.3 99.1,204.5 99.5,201.3 99.7,203.2 99.9,206.9 100.2,211.9 100.5,217.8 100.8,223.9 101.2,230.6 101.5,236.6 101.8,241.2 102.0,243.3 102.5,241.8 103.0,239.5 103.6,236.6 104.1,233.6 104.6,231.4 105.2,229.9 105.8,228.9 106.5,227.2 107.0,226.8 107.6,225.1 108.3,223.1 109.0,222.9 109.6,223.6 110.2,224.2 110.9,225.5 111.5,226.3 111.8,223.5 112.2,218.6 112.5,213.3 112.8,208.2 113.2,203.6 113.5,201.4 113.7,203.0 114.0,206.8 114.2,211.9 114.5,218.0 114.8,224.0 115.1,229.7 115.4,234.9 115.7,239.1 116.0,241.6 116.4,240.9 117.0,239.2 117.6,236.9 118.2,234.6 118.8,232.2 119.4,230.0 119.8,228.9 120.5,227.4 121.2,226.2 121.9,225.4 122.4,223.9 122.9,221.5 123.4,218.0 123.9,214.3 124.3,212.1 124.8,213.5 125.2,215.8 125.7,213.8 126.2,211.4 126.5,214.7 126.8,220.3 127.2,227.1 127.5,233.6 127.9,238.6 128.1,241.1 128.4,233.3 128.7,225.4 128.9,228.1 129.2,233.6 129.6,239.1 130.0,242.2 130.4,241.9 130.9,239.3 131.6,235.6 132.2,231.7 132.8,228.3 133.2,226.7 133.9,226.0 134.5,225.1 135.0,221.9 135.3,217.0 135.7,211.4 136.0,206.4 136.4,203.8 136.6,205.9 136.9,210.1 137.3,215.8 137.7,222.2 138.0,228.9 138.4,235.1 138.7,240.0 138.9,243.0 139.4,240.7 139.9,235.7 140.2,232.5 140.5,235.9 141.0,239.2 141.2,237.2 141.4,233.7 141.7,229.1 142.0,223.1 142.3,216.5 142.6,210.2 143.0,204.9 143.3,200.3 143.6,195.9 143.8,192.9 144.0,191.8 144.2,194.0 144.4,199.7 144.6,207.7 144.8,216.8 145.0,226.0 145.2,234.2 145.4,240.5 145.6,243.8 145.9,242.0 146.4,237.6 146.9,232.8 147.4,227.8 147.9,222.8 148.2,220.3 148.7,223.2 149.2,229.4 149.7,233.6 150.1,232.4 150.6,230.4 151.2,228.6 151.9,226.9 152.4,225.4 152.9,224.7 153.5,224.4 154.2,224.9 154.9,226.5 155.4,227.6 155.7,223.7 156.0,217.4 156.3,210.8 156.7,204.7 157.0,200.1 157.3,198.1 157.5,199.8 157.8,203.4 158.1,208.2 158.4,214.0 158.7,220.3 159.0,226.7 159.3,232.3 159.6,236.6 159.9,239.1 160.3,238.6 160.9,237.3 161.5,235.1 162.1,232.6 162.7,230.3 163.3,228.5 163.7,227.6 164.5,226.8 165.2,226.1 166.0,226.1 166.6,226.2 167.4,225.3 168.2,225.5 168.9,226.5 169.4,225.5 169.7,219.9 170.0,211.6 170.1,203.9 170.4,200.6 170.6,203.0 171.0,207.8 171.3,214.4 171.7,222.4 172.1,230.1 172.4,236.1 172.7,239.7 173.5,236.5 174.3,233.7 175.1,231.7 175.9,228.9 176.6,228.5 177.3,228.2 178.1,227.1 178.8,226.1 179.3,225.9 179.8,226.6 180.4,227.5 181.0,227.7 181.7,226.5 182.3,226.0 182.5,219.5 182.7,209.6 183.0,200.5 183.3,196.8 183.5,199.3 183.8,204.4 184.1,211.4 184.4,218.5 184.8,225.8 185.1,232.8 185.4,238.7 185.6,242.2 186.4,239.4 187.2,234.7 188.0,231.7 188.8,229.3 189.5,228.5 190.3,228.3 191.1,227.2 191.8,226.3 192.5,226.6 193.2,226.5 194.0,225.5 194.9,226.0 195.7,225.5 196.5,225.0 197.3,225.7 198.1,226.0 198.8,226.2 199.4,226.8 199.8,226.7 200.1,225.1 200.4,217.8 200.7,207.7 201.1,202.3 201.3,204.6 201.7,209.4 202.0,216.6 202.4,224.4 202.8,231.8 203.1,237.6 203.4,241.2 204.2,239.1 205.0,234.6 205.8,232.3 206.6,229.0 207.1,229.1 207.6,229.3 208.3,228.2 209.1,227.1 210.0,227.4 210.8,228.2 211.4,227.3 211.9,226.8 212.5,226.3 213.0,225.9 213.8,226.5 214.5,226.1 215.4,224.4 216.1,224.3 216.4,225.2 216.7,226.0 216.9,220.5 217.1,211.4 217.4,202.8 217.7,199.0 217.9,201.2 218.2,205.9 218.5,212.2 218.8,218.8 219.2,225.6 219.5,231.8 219.8,236.9 220.0,239.8 220.8,237.4 221.6,234.6 222.4,231.3 223.2,229.2 224.0,228.1 224.9,227.3 225.5,227.4 226.2,228.2 226.9,227.3 227.6,225.9 228.1,226.1 228.6,227.7 229.5,228.6 230.4,228.9 231.0,228.0 231.6,227.0 231.8,222.2 232.0,214.4 232.3,207.0 232.6,203.7 232.8,205.9 233.1,210.1 233.4,215.6 233.7,221.9 234.1,229.3 234.4,236.1 234.7,241.3 234.9,244.3 235.5,242.6 236.0,238.9 236.5,235.8 237.3,232.2 238.1,229.4 238.7,227.7 239.4,226.5 240.2,226.5 240.9,227.7 241.5,226.4 242.0,225.8 242.7,226.1 243.4,225.4 243.6,220.1 243.9,211.5 244.1,203.5 244.4,199.6 244.6,202.0 245.0,207.2 245.3,214.5 245.7,222.5 246.1,229.9 246.4,235.9 246.7,239.5 247.5,237.1 248.3,233.2 249.1,230.6 249.9,229.7 250.6,228.5 251.3,228.5 252.0,227.6 252.7,226.2 253.5,226.4 254.4,227.7 255.1,226.9 255.8,225.8 256.4,225.7 257.1,226.0 258.0,225.9 258.7,225.0 258.8,225.9 258.9,226.8 259.1,221.1 259.3,211.9 259.6,202.8 259.9,198.6 260.1,200.8 260.4,205.7 260.7,212.4 261.0,220.1 261.4,228.2 261.7,235.6 262.0,241.4 262.2,244.8 262.8,242.9 263.3,238.4 263.8,236.0 264.6,233.3 265.4,230.5 266.0,229.3 266.5,228.7 267.1,226.7 267.6,225.8 268.2,227.1 268.8,227.8 269.6,226.1 270.4,224.8 270.6,218.7 270.9,209.1 271.1,200.3 271.4,196.5 271.6,198.7 271.9,203.4 272.2,209.7 272.5,216.6 272.9,223.7 273.2,230.2 273.5,235.5 273.7,238.6 274.5,237.0 275.3,232.4 276.1,230.4 276.9,228.7 277.6,227.3 278.3,226.2 278.9,227.2 279.5,228.5 280.3,227.7 281.3,226.7 282.1,226.2 283.0,225.4 283.9,225.5 284.8,226.2 285.5,226.1 286.1,225.6 286.3,220.1 286.6,211.5 286.8,203.5 287.1,200.0 287.3,202.0 287.6,206.4 287.9,212.4 288.2,219.2 288.6,225.8 288.9,231.9 289.2,237.1 289.4,240.3 290.2,238.2 291.0,234.2 291.8,231.0 292.6,228.9 293.4,229.0 294.2,229.2 294.7,228.3 295.2,227.4 296.0,226.7 296.8,227.2 297.4,226.3 298.0,225.5 298.5,226.0 299.0,226.9 300.0,227.6 300.8,228.2 301.3,227.8 301.6,226.3 301.8,220.5 302.0,211.7 302.3,203.5 302.6,199.9 302.8,202.0 303.1,206.5 303.4,212.5 303.7,219.5 304.1,226.5 304.4,233.3 304.7,238.7 304.9,242.0 305.7,239.3 306.5,233.9 307.3,231.8 308.1,229.5 308.6,228.6 309.1,228.1 309.9,228.4 310.7,228.5 311.5,228.1 312.3,226.5 313.0,225.9 313.7,226.4 314.5,225.2 315.2,225.8 315.3,227.1 315.4,228.1 315.6,222.1 315.8,212.5 316.1,203.5 316.4,199.7 316.6,201.9 316.9,206.4 317.2,212.4 317.5,219.2 317.9,226.1 318.2,232.4 318.5,237.4 318.7,240.5 319.5,237.9 320.3,233.9 321.1,231.1 321.9,229.4 322.8,226.9 323.6,226.5 324.3,227.9 324.8,227.9 325.5,227.9 326.1,227.8 326.8,227.9 327.5,227.9 328.3,225.8 329.0,224.9 329.7,226.1 330.3,225.1 330.5,225.4 330.7,226.4 330.9,220.6 331.1,211.1 331.4,202.1 331.7,197.9 331.9,199.9 332.2,204.4 332.5,210.7 332.8,218.0 333.2,225.3 333.5,232.0 333.8,237.3 334.0,240.2 334.8,237.5 335.6,233.8 336.4,231.1 337.2,229.9 338.0,228.2 338.8,227.0 339.6,227.0 340.5,228.3 341.1,228.1 341.7,226.7 342.5,227.1 343.4,227.7 344.2,228.5 344.9,227.9 345.8,227.5 346.7,227.3 347.4,227.4 348.0,227.3 348.9,226.8 349.8,226.9 350.2,226.8 350.6,226.4 350.8,220.6 351.0,211.5 351.3,203.0 351.6,199.4 351.8,201.6 352.1,206.3 352.4,212.4 352.7,219.3 353.1,226.6 353.4,233.6 353.7,239.2 353.9,242.5 354.7,239.9 355.5,235.0 356.3,232.3 357.1,229.3 357.7,228.3 358.4,227.1 359.2,227.0 360.0,226.7 360.2,226.4 360.4,225.3 360.6,219.2 360.8,209.8 361.1,201.2 361.4,197.6 361.6,199.7 361.9,204.3 362.2,210.6 362.5,217.7 362.9,224.1 363.2,230.0 363.5,234.9 363.7,237.9 364.5,236.4 365.3,234.0 366.1,231.6 366.9,229.4 367.7,229.6 368.5,229.3 369.3,228.7 370.1,228.5 371.0,228.2 371.8,227.4 372.7,226.6 373.5,226.9 374.0,227.2 374.5,227.3 375.1,227.2 375.8,228.2 376.6,227.6 377.3,226.9 378.2,226.0 378.8,224.8 379.0,225.5 379.1,226.2 379.3,220.4 379.5,211.3 379.8,202.8 380.1,199.0 380.3,201.4 380.7,206.4 381.0,213.4 381.4,221.6 381.8,229.2 382.1,235.1 382.4,238.5 383.2,235.9 384.0,233.0 384.8,230.9 385.6,229.9 386.4,227.8 387.2,228.3 387.8,227.7 388.4,227.4 389.0,227.8 389.6,227.9 390.2,227.2 390.7,226.4 391.3,227.2 392.0,227.6 392.8,227.2 393.6,227.3 394.4,227.9 395.1,227.5 395.3,221.4 395.6,212.3 395.8,203.9 396.1,200.4 396.3,202.6 396.6,207.3 396.9,213.5 397.2,220.1 397.6,226.8 397.9,233.1 398.2,238.0 398.4,240.9 399.2,238.0 400.0,234.9 400.8,232.3 401.6,230.5 402.3,228.4 402.9,226.2 403.6,226.0 404.3,226.4 404.9,226.8 405.4,226.8 406.1,226.4 406.7,226.1 407.3,226.5 407.9,226.8 408.1,221.2 408.3,211.9 408.6,203.2 408.9,199.1 409.1,201.7 409.4,206.8 409.7,213.5 410.0,220.3 410.4,227.1 410.7,233.6 411.0,239.0 411.2,242.1 412.0,239.7 412.8,234.3 413.6,231.3 414.4,230.1 415.3,227.2 416.2,225.9 416.8,226.5 417.4,226.9 418.0,226.5 418.6,225.9 419.2,227.1 419.8,227.9 420.5,227.6 421.2,226.8 421.7,226.1 422.1,225.4 422.4,218.1 422.7,207.9 423.1,202.9 423.3,205.6 423.7,210.3 424.1,216.6 424.5,224.2 424.9,231.5 425.2,236.9 425.4,240.1 425.8,237.2 426.0,233.5 426.3,231.2 426.7,229.3 427.1,228.0 427.5,226.4 427.9,223.6 428.5,222.7 429.0,225.1 429.6,228.1 430.3,229.8 430.8,231.8 431.4,232.0 432.0,230.3 432.5,229.9 433.2,229.7 433.9,228.7 434.6,227.4 434.9,226.5 435.1,226.0 435.6,226.8 436.1,227.5" fill="none" stroke="#1c1c1c" stroke-width="1.1" stroke-linejoin="round" stroke-linecap="round"/>
<path d="M79.4,289.9 79.8,289.8 80.5,289.9 81.3,290.0 82.1,289.8 82.8,289.8 83.4,290.2 84.0,292.9 84.5,296.7 85.1,300.5 85.7,303.7 86.3,304.5 86.7,303.3 87.1,301.6 87.7,298.9 88.2,295.5 88.8,292.0 89.3,288.7 89.8,285.7 90.3,283.4 90.6,282.1 91.3,283.2 91.9,284.1 92.4,285.7 92.9,288.4 93.5,292.4 94.1,296.1 94.5,298.3 94.8,299.0 95.2,299.2 95.6,298.0 96.3,296.1 97.0,293.4 97.5,290.4 97.8,286.7 98.2,281.1 98.6,275.3 99.0,270.2 99.4,267.8 99.6,269.7 99.9,273.2 100.2,277.9 100.6,283.2 100.9,288.9 101.3,294.4 101.6,299.5 102.0,303.7 102.3,306.7 102.5,308.1 102.9,306.6 103.3,302.7 103.7,297.1 104.0,291.0 104.4,286.0 104.7,283.2 105.3,280.2 106.1,278.2 106.8,277.2 107.3,277.2 108.0,278.6 108.7,279.6 109.3,280.8 109.8,282.2 110.5,285.3 111.1,289.0 111.6,291.5 112.1,291.4 112.5,291.5 112.8,287.0 113.3,279.8 113.8,272.9 114.3,269.8 114.5,271.5 114.8,275.3 115.2,280.5 115.5,286.5 115.9,292.9 116.3,298.9 116.7,303.5 117.0,306.8 117.3,308.7 117.7,307.7 118.2,305.5 118.7,302.2 119.2,297.7 119.7,293.6 120.1,290.3 120.5,287.9 121.2,284.3 122.0,281.8 122.6,281.5 123.3,281.8 124.1,284.7 124.9,286.6 125.5,287.9 126.3,288.7 127.0,289.2 127.6,289.6 128.0,286.6 128.3,281.3 128.6,276.0 129.0,273.4 129.2,275.8 129.5,280.1 129.8,285.9 130.1,292.3 130.4,298.7 130.8,303.9 131.1,307.4 131.5,308.7 131.8,308.2 132.2,306.6 132.7,304.4 133.2,301.8 133.7,299.0 134.3,295.5 134.8,291.9 135.3,288.4 135.8,285.7 136.2,283.6 136.5,282.3 137.3,282.9 138.0,284.6 138.6,285.9 139.2,287.9 139.8,289.6 140.5,291.2 141.2,292.4 141.8,292.7 142.2,289.4 142.7,283.3 143.1,276.9 143.6,274.0 143.9,276.2 144.2,280.5 144.5,286.3 144.9,292.8 145.2,298.9 145.6,304.0 146.0,307.8 146.3,309.4 146.7,308.3 147.1,306.4 147.6,303.1 148.1,298.8 148.5,294.7 149.0,290.9 149.4,287.3 149.8,284.9 150.5,283.3 151.2,282.8 151.9,282.3 152.5,282.2 153.1,283.2 153.8,285.0 154.6,285.4 155.2,285.5 155.7,284.5 156.4,282.8 157.0,280.9 157.7,279.9 158.2,279.1 158.6,281.2 159.0,285.3 159.4,290.4 159.8,295.8 160.3,300.7 160.7,305.1 161.1,307.2 161.5,306.0 162.0,303.6 162.5,300.5 163.1,296.9 163.7,293.3 164.2,289.9 164.7,287.3 165.0,285.6 165.9,284.8 166.7,283.9 167.3,284.2 168.0,285.6 168.8,286.4 169.4,287.2 169.9,286.2 170.5,282.8 171.0,280.2 171.6,278.3 172.1,277.5 172.4,280.0 172.8,284.6 173.2,290.5 173.5,297.2 174.0,303.0 174.4,306.8 174.8,308.3 175.2,307.4 175.6,305.5 176.1,302.9 176.6,299.2 177.2,295.3 177.8,291.8 178.3,288.0 178.8,285.0 179.3,283.1 179.6,281.8 180.3,282.9 180.9,285.3 181.4,287.8 181.9,289.1 182.8,288.4 183.7,285.7 184.1,283.4 184.7,280.1 185.2,276.7 185.8,274.5 186.3,272.7 186.6,274.4 186.9,278.0 187.2,282.8 187.5,288.5 187.9,294.7 188.3,300.5 188.6,304.9 189.0,307.9 189.3,309.6 189.7,309.1 190.1,306.7 190.6,302.9 191.1,299.4 191.6,295.4 192.1,291.1 192.6,287.4 193.0,284.7 193.4,283.0 194.1,283.3 194.9,284.0 195.7,285.1 196.4,286.9 197.0,288.4 197.7,289.3 198.3,290.0 198.8,290.1 199.3,285.4 200.0,279.6 200.6,276.7 200.8,278.9 201.1,283.0 201.4,288.2 201.7,294.0 202.1,299.8 202.4,304.8 202.8,308.3 203.2,309.4 203.5,308.8 203.9,307.3 204.4,305.1 204.9,302.1 205.4,298.4 206.0,294.6 206.5,291.5 207.0,288.1 207.5,284.6 208.0,281.2 208.3,278.9 208.6,278.1 209.2,280.9 209.6,285.3 210.0,288.4 210.6,289.3 211.3,289.4 212.1,290.8 212.7,290.5 213.1,288.1 213.5,285.2 213.9,281.3 214.4,277.0 214.9,273.6 215.3,271.9 215.6,273.5 215.9,276.7 216.3,281.1 216.8,286.5 217.2,292.0 217.7,297.1 218.1,302.0 218.5,306.0 218.9,308.8 219.3,309.9 219.6,308.8 220.0,306.2 220.3,302.6 220.7,298.5 221.2,294.1 221.6,290.0 222.0,285.1 222.4,279.9 222.8,275.7 223.1,272.9 223.4,270.8 223.7,269.3 224.1,270.6 224.6,275.7 225.0,282.4 225.4,288.9 225.7,294.2 226.0,297.2 226.4,296.2 226.9,293.5 227.4,290.5 227.8,289.1 228.7,289.7 229.6,290.7 229.9,288.5 230.4,284.5 230.8,280.1 231.3,276.3 231.8,273.1 232.2,271.8 232.5,273.5 232.8,277.1 233.2,282.0 233.5,287.8 233.9,293.7 234.3,299.0 234.7,303.6 235.0,307.1 235.3,308.6 235.6,307.9 236.1,305.5 236.5,301.7 236.9,297.0 237.4,292.5 237.8,288.2 238.2,284.4 238.5,281.9 239.2,279.5 239.8,278.8 240.6,279.1 241.0,280.5 241.5,282.1 242.1,284.0 242.7,286.2 243.3,289.7 243.8,292.2 244.3,294.0 244.7,294.8 245.3,296.0 245.9,296.8 246.5,296.7 246.8,294.8 247.2,291.9 247.7,287.7 248.2,282.8 248.8,278.2 249.3,274.0 249.8,270.8 250.2,268.7 250.6,268.2 250.9,269.3 251.2,272.1 251.5,276.5 251.8,282.0 252.1,288.0 252.4,294.2 252.7,300.0 253.0,304.8 253.3,308.2 253.6,309.7 253.9,309.1 254.3,306.9 254.7,303.7 255.1,300.0 255.5,295.9 256.0,291.9 256.5,287.8 256.9,283.8 257.3,280.1 257.7,277.2 258.0,276.1 258.5,277.5 259.1,279.0 259.7,281.3 260.2,284.4 260.8,287.8 261.2,290.2 261.6,291.5 262.3,293.3 263.0,293.3 263.3,291.0 263.7,288.1 264.2,284.7 264.7,280.0 265.2,276.0 265.6,273.3 266.0,272.4 266.3,274.7 266.6,279.2 267.0,284.9 267.3,291.2 267.7,297.7 268.0,303.4 268.4,307.7 268.7,309.7 269.0,309.0 269.4,306.6 269.8,303.0 270.3,298.4 270.8,293.7 271.2,289.6 271.7,285.8 272.0,282.8 272.3,280.9 273.1,280.1 274.0,280.2 274.4,281.2 274.9,282.7 275.4,284.5 276.1,287.0 276.6,289.7 277.2,291.7 277.6,292.4 278.3,292.2 279.0,292.0 279.6,291.4 280.3,290.8 280.9,291.7 281.7,293.2 282.5,294.6 283.2,296.6 283.8,297.1 284.3,295.9 284.8,294.1 285.2,291.3 285.6,287.8 286.0,283.9 286.4,278.7 286.9,273.0 287.3,268.3 287.8,266.3 288.0,268.0 288.3,271.5 288.6,276.2 288.9,281.7 289.3,287.5 289.6,293.3 290.0,298.9 290.3,303.9 290.7,307.3 291.0,308.5 291.3,307.5 291.7,305.6 292.1,302.8 292.5,298.9 293.0,294.3 293.4,289.9 293.9,285.6 294.3,281.7 294.7,278.6 295.1,276.7 295.4,275.9 295.8,276.2 296.3,277.8 296.8,281.2 297.3,284.4 297.8,287.4 298.3,290.7 298.7,293.4 299.0,294.9 299.8,297.4 300.7,297.4 301.0,295.5 301.3,292.8 301.8,289.5 302.2,285.9 302.7,282.1 303.2,277.8 303.6,274.5 304.0,272.7 304.3,272.1 304.6,273.6 305.0,277.4 305.3,282.7 305.7,288.8 306.0,294.8 306.3,300.1 306.7,304.0 307.0,305.9 307.4,304.9 307.9,302.9 308.4,299.5 309.0,294.9 309.5,290.6 310.1,287.1 310.5,284.8 311.0,284.2 311.7,283.4 312.4,282.5 313.1,282.8 313.6,282.6 314.1,282.6 315.1,285.8 315.9,288.4 316.4,285.2 316.9,280.5 317.6,277.0 317.9,278.6 318.2,282.2 318.6,286.8 319.0,291.8 319.5,296.8 319.9,301.6 320.4,305.6 320.8,308.3 321.2,309.5 321.6,309.0 322.0,307.1 322.5,304.0 323.0,301.0 323.5,297.7 324.0,293.5 324.5,289.8 325.0,286.8 325.4,284.5 325.7,283.1 326.4,283.1 327.1,283.1 327.8,283.4 328.3,284.0 328.9,285.9 329.5,288.6 330.1,290.1 330.6,287.8 331.2,283.0 331.8,278.2 332.4,275.9 332.7,278.3 333.1,283.1 333.4,289.3 333.8,295.9 334.3,301.3 334.7,305.4 335.1,307.3 335.4,306.7 335.8,304.7 336.3,301.8 336.8,298.7 337.3,295.4 337.8,292.0 338.3,288.7 338.7,285.7 339.2,283.3 339.5,281.8 340.1,282.0 340.8,283.8 341.5,285.2 342.1,286.2 342.6,286.5 343.2,286.3 344.0,286.8 344.7,286.9 345.2,286.8 345.8,288.3 346.5,290.5 347.0,291.4 347.4,288.1 347.7,282.4 348.1,276.9 348.6,274.6 348.8,276.4 349.2,279.8 349.5,284.2 349.9,289.5 350.3,295.3 350.7,300.7 351.1,305.0 351.4,308.1 351.7,309.5 352.1,307.9 352.7,303.5 353.2,298.0 353.7,292.7 354.2,288.1 354.6,285.2 355.2,285.1 355.9,284.4 356.5,284.1 357.1,284.0 357.7,283.0 358.5,282.1 359.1,282.1 359.5,283.4 360.1,285.0 360.7,287.7 361.2,290.3 361.8,291.9 362.2,292.6 362.8,290.1 363.3,285.0 363.9,280.3 364.5,278.1 364.8,279.8 365.2,283.1 365.6,287.5 366.0,292.9 366.5,298.9 366.9,303.7 367.3,307.5 367.7,310.8 368.0,312.5 368.4,311.2 368.9,307.4 369.3,302.3 369.8,297.0 370.2,292.2 370.5,288.9 371.1,285.3 371.8,282.7 372.4,281.5 372.8,282.0 373.4,283.5 373.9,285.5 374.5,287.6 375.0,289.0 375.5,289.8 376.2,290.2 376.9,290.7 377.6,290.7 378.1,291.1 378.6,289.4 379.1,285.3 379.7,280.6 380.2,276.8 380.7,275.5 381.0,277.5 381.4,281.7 381.8,287.1 382.2,292.1 382.7,297.2 383.1,302.2 383.5,305.9 383.8,307.8 384.2,306.7 384.7,303.8 385.2,299.5 385.6,294.6 386.1,290.5 386.4,287.8 387.0,284.5 387.7,281.9 388.3,280.5 388.8,281.7 389.5,282.4 390.1,283.9 390.8,285.9 391.2,286.3 391.8,287.6 392.4,289.5 393.0,291.9 393.6,293.4 394.1,294.1 394.6,294.0 395.0,292.4 395.5,289.1 396.0,284.5 396.5,279.9 397.0,275.8 397.4,272.4 397.8,270.9 398.1,273.1 398.4,277.3 398.7,282.8 399.1,289.0 399.4,295.4 399.8,301.2 400.1,306.3 400.4,310.1 400.7,312.0 401.1,310.9 401.5,307.6 402.0,303.0 402.4,297.4 402.9,292.4 403.2,288.5 403.5,286.0 404.0,282.6 404.5,282.0 405.0,282.6 405.8,283.5 406.6,286.1 407.3,287.9 407.9,288.7 408.6,290.0 409.3,291.9 410.0,293.1 410.5,293.3 410.9,290.3 411.4,285.0 411.8,280.1 412.3,276.0 412.7,274.0 413.0,275.5 413.3,279.2 413.7,284.1 414.1,289.4 414.5,294.7 414.9,299.8 415.3,304.2 415.6,307.7 415.9,309.8 416.4,308.7 416.8,305.0 417.3,300.4 417.7,295.9 418.1,293.1 418.5,291.0 419.0,288.6 419.5,286.7 420.0,285.4 420.5,285.5 421.2,285.5 421.9,285.4 422.6,285.8 423.2,286.3 423.8,287.3 424.5,289.1 425.2,291.1 425.9,292.0 426.4,292.6 427.0,293.0 427.7,293.0 428.4,292.3 429.0,291.3 429.4,288.8 429.9,284.8 430.4,279.9 430.9,275.4 431.3,272.2 431.7,270.8 432.1,273.2 432.5,279.0 432.9,286.1 433.2,292.4 433.4,296.2" fill="none" stroke="#1c1c1c" stroke-width="1.1" stroke-linejoin="round" stroke-linecap="round"/>
<path d="M78.4,386.5 78.7,386.6 79.2,386.8 80.0,387.0 80.8,387.4 81.7,386.9 82.4,387.2 83.0,385.3 83.3,384.9 83.5,381.0 83.8,372.8 84.0,363.4 84.3,355.6 84.4,352.5 84.5,354.7 84.7,359.8 85.0,366.5 85.3,374.2 85.6,382.2 85.9,390.6 86.2,397.8 86.4,403.1 86.5,405.2 87.0,403.2 87.9,402.4 88.8,400.5 89.3,399.8 89.6,396.5 90.0,389.8 90.4,382.9 90.7,378.6 91.2,374.9 92.0,372.1 92.5,370.0 93.0,365.3 93.5,362.0 93.6,364.7 93.8,369.9 94.1,377.2 94.4,385.6 94.7,393.8 95.0,401.5 95.3,408.4 95.5,413.9 95.6,416.1 95.7,413.3 95.9,406.0 96.2,395.5 96.4,384.6 96.6,376.0 96.7,372.0 97.2,376.3 97.9,383.7 98.4,387.1 98.7,383.8 99.1,380.6 99.4,383.5 100.0,390.2 100.6,393.6 100.9,395.1 101.2,391.6 101.6,384.1 102.0,378.0 102.3,375.4 102.5,378.9 102.9,386.2 103.4,394.6 103.8,401.1 104.0,403.7 104.2,401.3 104.5,395.4 104.9,387.3 105.3,378.0 105.6,370.8 105.8,368.2 106.0,370.4 106.3,376.0 106.6,383.0 107.0,390.3 107.4,397.9 107.7,404.1 107.9,406.7 108.1,405.7 108.4,402.1 108.7,396.8 109.2,391.3 109.6,385.5 110.1,379.5 110.4,374.3 110.7,370.0 110.9,368.1 111.2,369.0 111.7,373.0 112.3,377.7 112.7,381.5 113.0,383.7 113.4,386.6 114.0,390.5 114.4,392.5 114.8,388.7 115.4,382.0 115.8,378.5 116.1,381.4 116.5,386.4 116.9,392.2 117.2,396.1 117.8,396.9 118.7,395.9 119.3,395.5 119.5,394.1 119.8,391.2 120.2,386.6 120.7,380.4 121.2,374.3 121.6,368.6 122.0,364.3 122.3,361.4 122.5,360.3 122.7,363.1 122.9,369.7 123.2,378.6 123.5,387.3 123.8,395.4 124.0,401.6 124.2,405.1 124.5,404.7 125.0,401.8 125.6,395.2 126.2,392.3 126.7,389.1 127.0,387.1 127.3,383.2 127.9,375.7 128.4,370.8 128.7,369.3 128.9,371.3 129.2,375.2 129.6,380.3 130.0,386.3 130.3,391.1 130.5,393.1 130.9,391.8 131.8,390.4 132.7,389.5 133.5,390.4 134.0,388.4 134.3,385.6 134.7,381.8 135.2,377.7 135.8,373.0 136.2,369.4 136.4,367.9 136.6,371.8 136.8,380.6 137.1,390.3 137.3,398.5 137.5,402.0 137.7,400.4 138.1,397.0 138.6,392.4 139.2,387.6 139.7,383.3 140.1,379.8 140.3,377.8 140.7,380.3 141.3,388.0 141.7,392.5 142.0,391.6 142.6,389.7 143.2,387.3 143.8,383.4 144.2,382.6 144.5,383.9 145.0,385.5 145.6,384.9 146.4,387.2 147.2,389.8 148.0,392.3 148.6,392.4 149.1,393.7 149.4,394.6 149.6,393.7 149.9,390.1 150.3,385.2 150.8,379.8 151.2,374.2 151.7,369.2 152.1,365.0 152.3,362.0 152.5,360.9 152.6,362.7 152.8,367.1 153.0,373.4 153.3,380.8 153.5,388.6 153.8,396.2 154.0,402.6 154.2,407.0 154.3,408.8 154.5,407.4 154.8,403.7 155.2,398.4 155.7,391.9 156.2,384.6 156.6,377.0 156.9,371.7 157.1,369.6 157.5,371.5 158.2,378.0 158.8,382.9 159.2,384.8 159.8,385.1 160.7,385.0 161.3,386.0 161.9,388.2 162.8,390.8 163.4,391.5 163.8,390.8 164.6,388.2 165.6,388.5 166.4,384.3 166.8,384.0 167.5,383.9 168.2,382.4 168.5,377.1 169.1,369.8 169.4,366.8 169.5,369.9 169.8,376.4 170.1,384.6 170.5,392.6 170.8,398.4 171.0,400.7 171.2,399.5 171.7,397.2 172.3,393.0 173.0,387.7 173.6,384.3 174.3,379.9 174.7,377.9 175.0,377.5 175.3,378.6 175.9,379.4 176.5,382.1 177.2,386.2 177.9,389.4 178.4,391.2 178.7,392.2 179.1,391.2 179.8,387.4 180.4,384.1 180.8,382.0 181.0,378.7 181.3,372.3 181.7,364.9 182.0,358.3 182.2,355.5 182.3,358.2 182.5,364.5 182.7,373.1 183.0,383.0 183.3,392.9 183.6,401.8 183.8,408.3 183.9,411.0 184.1,409.5 184.4,405.5 184.8,399.9 185.2,394.2 185.7,388.6 186.1,384.0 186.4,380.6 186.6,378.6 187.5,379.4 188.3,379.8 189.0,380.3 190.0,381.0 190.7,382.0 191.0,383.7 191.6,387.4 192.3,391.5 192.9,394.3 193.2,394.8 193.5,393.5 194.1,392.5 194.8,390.7 195.4,388.5 195.7,386.9 195.9,383.4 196.2,376.6 196.5,368.9 196.8,362.6 197.0,360.1 197.1,362.4 197.3,367.9 197.6,375.5 198.0,383.5 198.3,391.5 198.6,399.1 198.8,404.8 199.0,407.3 199.2,406.3 199.6,402.3 200.1,397.0 200.6,392.0 201.2,387.1 201.7,382.7 202.1,379.0 202.3,377.3 202.6,377.5 203.2,378.2 203.9,382.0 204.7,383.4 205.3,384.8 205.6,385.6 205.9,385.8 206.5,386.5 207.2,389.5 208.0,390.4 208.6,392.5 208.9,393.3 209.2,392.0 209.8,389.6 210.6,387.2 211.3,383.7 211.9,381.5 212.2,380.2 212.7,379.9 213.4,381.7 214.2,383.6 214.7,384.6 215.0,385.5 215.6,386.2 216.4,387.9 217.1,390.5 217.7,391.7 218.0,392.0 218.5,389.0 219.1,384.6 219.6,381.9 219.8,382.2 220.3,382.7 221.0,383.3 221.7,384.9 222.5,385.9 223.2,389.4 223.8,391.1 224.3,391.6 224.6,391.5 225.0,390.4 225.6,388.8 226.3,386.2 227.0,383.4 227.6,380.5 227.9,378.8 228.4,380.2 229.2,382.3 230.0,383.5 230.4,384.3 230.8,380.5 231.3,374.4 231.7,371.5 231.9,375.1 232.2,382.7 232.6,391.6 233.0,398.9 233.2,402.0 233.4,400.9 233.8,398.1 234.4,394.5 235.0,389.0 235.5,384.6 235.9,381.8 236.2,380.5 236.6,380.1 237.2,379.6 238.0,378.1 238.8,377.2 239.5,377.1 239.8,376.7 240.1,379.8 240.6,385.4 241.1,392.2 241.4,395.8 241.8,393.9 242.5,388.8 243.2,383.9 243.6,381.8 244.0,383.0 244.8,385.7 245.6,387.6 246.1,388.7 246.3,387.3 246.7,384.2 247.2,380.0 247.8,376.4 248.3,372.2 248.8,368.2 249.2,365.8 249.4,365.0 249.6,368.0 249.9,374.7 250.2,383.3 250.6,391.8 250.8,398.4 251.0,401.4 251.8,399.5 252.7,393.3 252.9,391.9 253.4,389.9 254.0,386.5 254.7,382.6 255.4,378.8 256.0,374.9 256.5,373.8 256.8,373.7 257.1,374.1 257.6,375.5 258.2,377.9 258.8,382.2 259.5,386.0 260.1,388.6 260.6,391.7 260.9,393.0 261.2,392.3 261.7,390.9 262.3,389.9 263.0,389.0 263.7,387.1 264.3,384.7 264.8,382.7 265.1,382.3 265.4,381.9 266.0,380.2 266.8,377.6 267.6,374.7 268.3,373.1 268.9,372.5 269.2,371.9 269.5,376.3 269.8,385.6 270.2,394.9 270.4,399.2 270.6,397.4 270.9,393.0 271.3,386.7 271.8,379.2 272.3,371.7 272.8,365.3 273.1,361.6 273.3,360.4 273.5,362.0 273.8,365.2 274.1,369.1 274.6,374.3 275.0,380.8 275.4,387.4 275.8,393.2 276.1,397.2 276.3,398.9 276.6,397.8 277.1,394.6 277.7,390.1 278.4,387.1 279.1,383.9 279.6,380.4 279.9,378.6 280.2,379.1 280.7,380.8 281.3,382.7 282.0,385.1 282.7,388.5 283.3,391.8 283.8,392.3 284.1,392.8 284.4,392.8 285.0,391.8 285.8,389.0 286.6,385.4 287.3,382.3 287.9,381.8 288.2,380.7 288.6,378.6 289.2,375.6 289.8,372.8 290.4,370.4 290.7,370.3 290.9,373.6 291.1,380.5 291.5,388.2 291.8,395.4 292.1,401.0 292.3,403.3 292.5,402.6 292.8,400.7 293.3,398.6 293.8,395.4 294.5,391.4 295.1,389.0 295.7,385.4 296.3,382.0 296.7,379.1 297.1,377.9 297.3,377.5 297.7,379.1 298.2,381.7 299.0,383.4 299.7,386.8 300.2,389.9 300.6,390.7 300.9,390.5 301.3,391.2 302.0,390.9 302.7,389.2 303.4,387.2 304.1,386.2 304.8,385.0 305.2,385.5 305.5,385.8 305.8,383.9 306.3,379.4 306.9,375.6 307.5,371.3 308.1,367.2 308.6,364.6 308.8,363.6 309.0,366.6 309.2,373.5 309.5,382.4 309.7,391.3 310.0,398.3 310.1,401.5 310.3,400.2 310.8,395.7 311.4,390.7 312.0,387.4 312.4,382.9 312.7,380.8 313.6,383.4 314.4,384.9 314.7,383.7 315.4,381.2 316.1,378.8 316.7,376.2 317.0,375.0 317.3,378.3 317.7,385.2 318.1,392.7 318.4,396.4 318.8,395.0 319.4,391.5 320.2,387.0 320.9,384.6 321.3,383.3 321.8,383.3 322.6,383.8 323.4,383.1 323.9,382.3 324.3,381.8 325.1,382.5 326.0,384.2 326.8,384.9 327.3,385.7 327.7,386.7 328.3,388.4 329.0,390.2 329.8,392.1 330.4,394.6 330.7,394.6 330.9,392.0 331.2,386.4 331.7,379.8 332.1,372.9 332.5,367.2 332.8,363.0 333.0,360.8 333.1,362.6 333.4,367.5 333.7,374.5 334.0,383.2 334.3,391.9 334.6,399.9 334.8,405.8 335.0,408.4 335.2,407.5 335.5,403.1 336.0,397.1 336.5,393.0 337.1,388.1 337.5,382.8 337.9,378.9 338.1,377.0 338.5,377.4 339.2,378.9 340.0,382.6 340.6,384.9 341.0,385.3 341.9,382.1 342.7,381.2 343.0,383.0 343.6,386.5 344.3,390.4 345.0,393.6 345.3,394.9 345.6,393.7 346.2,392.3 346.9,390.0 347.5,386.7 347.9,384.4 348.3,383.7 349.1,383.8 350.1,383.9 350.9,382.9 351.3,382.3 351.8,382.1 352.6,385.2 353.4,388.3 353.9,389.5 354.1,388.0 354.5,384.8 355.0,379.9 355.6,373.9 356.2,368.8 356.7,366.2 357.1,362.8 357.3,361.3 357.4,363.3 357.6,368.5 357.9,376.5 358.1,385.6 358.4,394.7 358.6,402.5 358.9,408.2 359.0,410.6 359.2,410.1 359.5,407.9 359.9,404.5 360.3,399.9 360.9,394.8 361.4,390.8 361.9,387.4 362.4,384.6 362.8,380.3 363.1,377.1 363.3,376.0 363.8,377.7 364.6,379.4 365.4,380.7 365.9,382.4 366.2,384.5 366.9,386.7 367.5,389.4 368.2,392.4 368.5,393.8 368.8,392.9 369.4,389.4 370.1,385.8 370.7,383.4 371.0,382.7 371.3,384.0 371.9,386.2 372.6,388.8 373.2,389.6 373.6,389.5 374.0,389.9 374.8,389.8 375.8,389.9 376.6,389.4 377.0,389.2 377.4,387.6 378.0,382.8 378.7,377.5 379.1,375.2 379.3,376.2 379.8,379.2 380.4,381.5 381.0,384.1 381.7,388.1 382.3,390.5 382.8,392.9 383.0,394.1 383.4,393.3 384.0,390.3 384.7,387.7 385.3,384.4 385.6,382.2 385.8,380.4 386.2,376.7 386.7,371.5 387.2,365.5 387.6,361.3 388.0,358.4 388.2,356.9 388.3,359.3 388.5,364.9 388.7,372.8 388.9,382.0 389.2,391.6 389.4,400.6 389.6,408.3 389.8,413.9 389.9,416.2 390.0,415.1 390.3,411.9 390.7,407.3 391.1,401.7 391.6,395.9 392.0,390.1 392.4,383.2 392.8,377.5 393.1,374.6 393.3,373.4 393.5,374.5 393.9,376.2 394.5,378.3 395.1,379.8 395.7,383.7 396.4,386.3 396.9,387.8 397.3,389.6 397.6,390.4 397.9,390.6 398.4,390.8 399.1,388.9 399.9,389.0 400.6,387.1 401.4,385.3 402.1,385.0 402.5,384.4 402.8,383.4 403.3,385.1 404.0,391.3 404.5,392.6 404.8,391.3 405.4,390.2 406.2,390.2 406.9,388.6 407.5,386.2 407.9,384.7 408.4,383.6 409.2,383.0 410.1,382.3 410.9,380.8 411.3,380.2 411.6,381.0 412.0,383.4 412.6,388.7 413.2,393.0 413.6,395.8 413.9,396.9 414.2,395.8 414.6,393.1 415.2,389.7 415.9,386.4 416.5,382.3 417.0,379.3 417.3,378.2 417.6,378.8 418.1,379.8 418.7,382.5 419.5,385.9 420.2,388.0 420.8,390.3 421.3,391.1 421.6,391.3 422.0,390.5 422.6,387.5 423.3,382.8 423.9,379.5 424.2,378.0 425.1,381.9 425.9,385.7 426.3,380.9 426.9,372.7 427.3,368.3 427.5,370.4 427.8,375.2 428.2,381.8 428.6,389.1 429.0,395.8 429.3,400.7 429.4,403.0" fill="none" stroke="#1c1c1c" stroke-width="1.1" stroke-linejoin="round" stroke-linecap="round"/>
<path d="M81.6,464.1 82.0,464.1 82.8,463.5 83.8,462.4 84.7,461.5 85.1,461.9 85.5,461.6 85.8,459.4 86.0,455.8 86.3,448.5 86.7,440.6 87.0,434.1 87.2,431.2 87.5,433.1 87.9,437.5 88.3,443.3 88.6,447.1 88.8,450.8 89.1,456.6 89.5,463.3 89.8,469.7 90.0,473.2 90.6,476.9 91.1,478.7 91.6,473.6 92.1,468.0 92.5,464.9 93.1,460.2 93.5,457.5 94.2,455.5 94.9,455.4 95.6,458.6 96.3,460.8 96.6,456.8 97.0,449.8 97.4,443.9 97.7,441.1 97.8,443.3 98.1,448.5 98.4,455.5 98.8,463.9 99.1,472.3 99.4,479.3 99.7,484.1 99.8,486.3 100.2,482.5 100.8,475.8 101.2,473.0 101.9,472.1 102.6,469.5 102.8,466.9 103.2,461.8 103.6,455.5 104.1,449.4 104.5,445.2 104.7,443.6 104.9,445.0 105.2,448.4 105.6,453.2 106.1,457.7 106.7,463.3 107.2,469.5 107.6,473.5 107.9,476.2 108.1,477.4 108.7,474.7 109.6,472.3 110.2,469.4 110.8,468.5 111.7,466.8 112.3,464.0 112.5,459.8 112.9,451.7 113.4,443.0 113.8,435.8 114.0,432.8 114.1,434.9 114.3,439.9 114.6,447.0 115.0,455.4 115.3,464.2 115.6,472.7 115.9,479.9 116.2,484.4 116.3,486.0 116.5,483.3 117.0,477.6 117.5,471.7 118.0,465.5 118.4,460.6 118.6,457.8 119.3,456.2 120.0,456.5 120.9,452.4 121.8,451.5 122.0,453.0 122.5,456.4 123.0,460.7 123.5,466.0 124.0,470.8 124.2,472.6 124.8,472.4 125.7,472.3 126.3,473.0 126.7,470.8 127.4,466.5 128.0,463.0 128.4,462.0 129.1,464.8 129.8,466.2 130.0,463.5 130.3,458.0 130.6,452.0 131.0,446.4 131.4,440.0 131.7,434.8 131.9,432.6 132.0,435.1 132.3,442.0 132.6,451.2 132.9,461.4 133.3,470.9 133.5,478.2 133.7,481.1 133.9,480.0 134.4,477.1 134.9,473.0 135.6,468.8 136.2,464.9 136.8,461.3 137.3,458.2 137.5,456.7 138.0,458.2 138.9,458.0 139.8,458.2 140.3,459.2 140.8,460.7 141.7,461.8 142.6,464.5 143.1,464.2 143.7,467.0 144.6,470.1 145.2,471.1 145.4,469.1 145.6,465.0 146.0,459.9 146.4,454.1 146.8,447.5 147.2,441.7 147.4,438.4 147.6,437.2 147.7,439.2 147.9,444.2 148.2,450.8 148.5,458.3 148.8,465.8 149.1,472.3 149.3,476.9 149.4,478.9 149.7,477.1 150.2,473.1 150.7,468.5 151.2,464.6 151.5,462.2 152.0,460.5 152.9,458.3 153.8,458.1 154.3,456.5 155.0,455.3 155.7,454.7 156.1,456.5 156.7,458.6 157.5,462.1 158.1,465.6 158.5,467.3 158.9,465.7 159.5,461.5 159.9,458.1 160.2,454.8 160.7,449.1 161.2,444.0 161.5,441.9 161.6,444.1 161.9,449.2 162.2,456.2 162.5,463.7 162.8,470.2 163.2,475.9 163.4,480.5 163.6,482.4 163.8,481.7 164.2,479.9 164.7,477.4 165.3,473.1 165.9,468.1 166.5,463.1 167.1,459.5 167.6,456.1 168.0,453.8 168.2,452.5 168.5,453.7 169.0,457.5 169.5,462.6 170.0,466.6 170.3,468.4 170.7,468.5 171.6,467.5 172.5,466.0 173.3,465.7 173.8,465.3 174.3,464.4 175.2,461.4 176.1,460.6 176.6,459.5 177.2,460.0 178.1,461.2 178.7,462.2 178.9,459.4 179.3,453.6 179.7,446.7 180.1,440.8 180.3,437.8 180.4,440.2 180.7,445.8 181.0,453.6 181.3,462.2 181.6,470.1 181.8,476.7 182.0,479.5 182.2,478.5 182.6,475.3 183.0,470.0 183.5,464.7 184.0,460.0 184.4,457.5 184.6,456.5 185.0,458.2 185.6,460.5 186.4,466.5 187.0,469.4 187.4,471.2 187.7,470.7 188.3,468.2 189.0,463.9 189.6,459.2 189.9,457.7 190.4,457.5 191.2,459.3 192.0,458.4 192.4,458.0 193.2,460.9 194.0,464.6 194.5,468.7 195.2,474.4 195.7,477.7 195.9,475.7 196.3,470.7 196.7,464.2 197.2,458.5 197.6,454.1 197.8,451.7 198.7,452.9 199.5,455.0 199.9,451.2 200.6,443.8 201.1,440.6 201.2,442.7 201.4,447.2 201.6,453.3 201.9,459.7 202.3,466.6 202.6,473.7 202.9,480.6 203.2,486.2 203.4,490.4 203.5,492.2 203.7,491.5 203.9,489.5 204.3,485.6 204.7,480.6 205.1,475.8 205.6,471.0 206.1,465.2 206.5,460.0 206.9,456.0 207.1,453.3 207.3,451.8 207.6,451.8 208.2,453.6 209.0,457.0 209.7,458.0 210.3,461.1 210.6,462.6 211.0,463.7 211.8,464.7 212.7,465.5 213.5,465.2 213.9,465.5 214.1,463.7 214.5,459.7 215.1,454.3 215.6,447.4 216.1,441.3 216.5,438.4 216.7,437.5 216.8,440.0 217.0,445.4 217.3,452.8 217.6,461.3 217.9,469.4 218.1,476.5 218.4,481.6 218.5,484.1 218.8,483.2 219.3,480.7 219.9,475.8 220.6,470.8 221.3,467.2 221.8,463.9 222.1,461.6 222.6,460.0 223.5,459.8 224.4,457.4 224.9,455.9 225.5,458.1 226.5,457.4 227.1,460.3 227.4,461.7 228.0,463.7 228.7,468.9 229.3,471.2 229.6,471.8 229.8,470.0 230.1,466.0 230.6,459.5 231.1,450.8 231.5,443.3 232.0,437.2 232.3,433.7 232.5,432.5 232.6,434.6 232.8,439.5 233.1,445.7 233.3,453.0 233.6,460.8 233.9,468.4 234.2,474.8 234.4,479.4 234.5,481.3 234.8,480.0 235.2,477.0 235.8,474.2 236.5,471.2 237.1,467.8 237.5,464.8 237.8,464.0 238.1,463.7 238.7,462.0 239.4,459.2 240.0,457.6 240.3,456.5 240.6,456.8 241.2,457.6 242.0,458.7 242.7,460.9 243.3,463.5 243.6,463.6 244.4,464.3 245.2,465.4 245.4,462.9 245.8,457.7 246.3,451.3 246.8,444.4 247.2,439.0 247.4,437.0 247.5,439.1 247.8,444.1 248.0,451.2 248.4,459.7 248.7,468.1 249.0,475.0 249.2,479.6 249.4,481.4 249.6,480.2 250.0,478.6 250.5,475.8 251.1,470.9 251.7,466.8 252.3,462.7 252.9,459.0 253.3,457.1 253.5,456.3 253.8,456.8 254.4,457.8 255.2,459.1 256.0,461.0 256.7,463.6 257.3,465.6 257.6,466.5 258.0,465.4 258.6,463.1 259.3,460.8 260.0,459.4 260.6,457.9 260.9,457.4 261.4,459.0 262.1,462.2 262.9,464.5 263.4,465.3 263.8,464.7 264.6,464.8 265.5,464.9 266.3,464.8 266.7,464.4 266.9,462.1 267.2,457.2 267.6,451.8 268.0,445.9 268.4,439.2 268.7,434.4 268.9,432.6 269.0,434.6 269.2,439.6 269.5,446.5 269.8,454.7 270.2,463.2 270.5,471.3 270.8,478.0 271.0,482.8 271.2,484.8 271.4,484.1 271.7,481.9 272.2,478.3 272.7,473.3 273.3,469.2 273.9,465.2 274.5,461.3 274.9,456.4 275.3,453.3 275.5,452.5 275.8,453.7 276.3,455.6 277.0,457.5 277.7,459.6 278.3,462.1 278.8,465.1 279.1,466.8 279.5,466.0 280.3,465.0 281.2,464.6 281.9,463.3 282.4,463.4 282.7,463.1 283.3,462.7 284.1,464.0 284.9,464.4 285.8,463.2 286.5,464.1 287.1,464.9 287.4,464.5 287.9,462.9 288.7,462.0 289.4,461.3 289.8,460.3 290.1,456.2 290.7,447.5 291.2,438.3 291.5,435.3 291.6,437.4 291.8,442.3 292.0,449.0 292.3,456.1 292.6,463.4 292.9,470.6 293.2,476.9 293.4,481.4 293.5,483.3 293.7,482.4 294.1,480.4 294.6,475.8 295.2,468.8 295.8,465.2 296.4,460.7 296.8,457.0 297.0,455.3 297.4,456.3 298.0,459.0 298.8,462.1 299.4,464.3 299.8,465.1 300.2,464.3 301.0,463.0 301.9,461.5 302.7,461.1 303.1,460.4 304.0,463.8 304.8,465.5 305.0,463.9 305.4,460.4 305.9,455.0 306.5,448.8 307.0,444.6 307.4,441.1 307.6,439.6 307.7,441.7 308.0,446.5 308.3,453.5 308.6,461.5 308.9,469.3 309.2,475.8 309.4,480.4 309.6,482.3 309.8,481.2 310.2,478.2 310.8,474.2 311.4,469.2 312.0,463.0 312.6,459.6 313.0,456.6 313.2,454.7 313.8,455.2 314.7,457.6 315.3,458.7 316.1,461.1 317.0,460.5 317.3,462.5 317.9,465.3 318.6,467.1 319.3,468.0 319.6,469.3 320.1,469.0 320.9,465.6 321.7,464.3 322.2,463.3 323.1,463.0 323.9,461.5 324.1,459.8 324.4,456.6 324.9,452.0 325.4,445.0 325.8,439.6 326.2,436.5 326.4,435.4 326.5,437.2 326.7,441.5 327.0,447.7 327.3,455.0 327.6,462.9 327.9,470.4 328.1,476.9 328.4,481.7 328.5,483.8 328.7,483.2 329.0,481.0 329.5,477.5 330.0,474.9 330.6,471.3 331.2,466.0 331.8,462.5 332.2,459.5 332.6,457.2 332.8,456.2 333.1,457.2 333.7,459.5 334.4,462.2 335.1,464.8 335.6,467.0 335.9,467.9 336.4,468.2 337.2,467.1 337.9,464.8 338.4,464.5 338.9,464.7 339.7,464.2 340.5,464.1 341.0,464.1 341.5,463.2 342.3,461.2 343.1,459.0 343.6,459.1 344.1,460.3 344.9,461.3 345.7,463.2 346.2,463.2 346.4,460.8 346.8,456.4 347.3,450.9 347.8,445.4 348.2,440.9 348.4,438.9 348.5,441.1 348.8,446.2 349.1,454.1 349.4,463.1 349.8,471.9 350.1,479.4 350.3,484.9 350.5,486.9 350.7,485.3 351.1,481.6 351.6,478.3 352.1,474.6 352.7,469.5 353.3,464.6 353.8,460.1 354.2,456.5 354.4,454.7 354.8,455.7 355.5,457.9 356.3,460.9 356.9,464.1 357.3,466.0 357.8,465.8 358.6,463.7 359.4,462.4 359.9,462.2 360.8,458.6 361.6,457.2 362.1,460.5 362.8,466.2 363.3,468.9 363.6,464.4 364.0,455.3 364.4,448.1 364.7,445.0 364.8,447.7 365.1,453.5 365.3,461.4 365.7,470.2 366.0,479.1 366.2,485.7 366.4,488.5 366.6,487.6 366.9,484.9 367.3,481.0 367.8,475.9 368.3,471.0 368.8,466.7 369.3,461.2 369.7,456.9 370.0,454.3 370.2,453.2 370.6,453.8 371.2,454.6 371.9,456.3 372.7,459.7 373.3,461.4 373.6,462.2 373.9,462.7 374.5,463.9 375.2,466.3 375.8,467.6 376.4,469.0 376.7,469.7 377.1,467.5 377.8,462.8 378.5,458.9 379.2,455.5 379.6,454.8 379.9,456.2 380.3,458.8 380.9,461.9 381.6,464.2 382.3,468.6 382.9,471.2 383.3,473.3 383.6,474.6 383.8,473.3 384.1,469.8 384.4,464.3 384.9,457.8 385.3,449.9 385.7,443.1 386.1,438.8 386.3,435.9 386.5,434.6 386.6,435.9 386.9,439.6 387.2,444.9 387.6,451.0 387.9,457.4 388.3,464.3 388.6,470.4 388.8,474.7 389.0,476.4 389.3,475.4 389.8,473.4 390.4,471.7 391.1,468.8 391.7,464.4 392.2,461.4 392.5,460.3 393.4,462.0 394.2,463.7 394.5,463.0 395.1,461.0 395.9,458.0 396.6,454.9 397.3,453.8 397.6,453.7 397.9,455.4 398.3,459.1 398.9,464.9 399.5,470.1 399.9,473.6 400.2,475.2 400.4,473.8 400.7,470.4 401.2,465.7 401.7,460.1 402.2,453.3 402.7,447.4 403.1,442.9 403.4,439.1 403.6,437.5 403.8,439.5 404.0,445.0 404.3,453.0 404.6,461.7 404.9,470.0 405.1,477.0 405.3,480.1 405.5,480.0 405.8,477.8 406.3,473.6 406.8,471.3 407.4,468.4 408.0,463.5 408.6,459.2 409.0,456.2 409.4,454.4 409.6,453.7 409.9,455.1 410.5,457.9 411.2,460.0 411.8,463.4 412.4,465.0 412.7,465.4 413.1,464.8 413.8,463.4 414.5,459.5 415.2,458.0 415.6,456.0 415.9,456.3 416.4,459.0 417.0,462.9 417.7,465.9 418.3,468.9 418.8,470.6 419.1,471.1 419.3,470.0 419.6,468.2 420.0,465.4 420.5,461.6 421.0,456.8 421.5,450.6 422.1,446.3 422.5,442.4 422.9,438.4 423.2,435.9 423.4,435.6 423.6,437.8 423.8,442.6 424.1,448.9 424.5,455.7 424.9,462.7 425.2,469.2 425.5,474.7 425.8,478.6 425.9,480.3 426.2,478.5 426.6,474.1 427.2,468.1 427.8,462.9 428.2,459.2 428.5,457.7 429.0,457.4 429.8,456.9 430.6,456.7 431.1,456.3 431.4,457.0 432.1,458.6 432.7,461.1 433.3,464.1 433.6,465.6" fill="none" stroke="#1c1c1c" stroke-width="1.1" stroke-linejoin="round" stroke-linecap="round"/>
<path d="M81.5,499.5 81.6,506.7 81.8,515.3 81.9,518.9 82.1,525.8 82.4,534.7 82.7,543.8 83.0,551.0 83.1,554.4 83.5,550.6 84.0,546.0 84.3,542.5 84.7,536.0 85.2,528.5 85.5,524.6 86.0,523.0 86.5,522.9 87.2,524.2 87.9,523.9 88.6,527.7 89.3,529.9 89.9,529.4 90.8,529.7 91.4,530.2 91.8,534.1 92.4,538.6 92.8,540.9 93.0,538.8 93.4,534.0 93.8,528.2 94.3,522.7 94.7,518.4 94.9,516.7 95.0,518.9 95.3,523.5 95.6,529.7 95.9,536.9 96.3,544.2 96.6,550.6 96.8,555.4 97.0,557.6 97.2,556.8 97.5,554.3 98.0,548.4 98.5,542.4 99.0,538.3 99.5,532.2 100.0,526.7 100.3,523.2 100.5,521.5 101.1,523.1 102.0,526.9 102.6,530.0 103.0,532.7 103.7,535.2 104.3,538.7 104.7,540.7 105.2,537.8 106.0,531.8 106.5,528.5 107.4,532.1 108.2,535.1 108.9,534.1 109.5,532.7 109.8,529.9 110.2,524.5 110.6,518.5 110.9,515.7 111.1,518.7 111.4,525.8 111.7,534.8 112.1,544.1 112.4,551.5 112.6,554.6 112.8,553.3 113.2,549.5 113.6,544.4 114.1,538.6 114.5,533.8 114.9,530.4 115.1,528.8 115.9,526.2 116.8,523.9 117.1,525.3 117.7,527.8 118.4,530.4 119.0,533.3 119.3,534.4 119.9,533.9 120.8,532.7 121.4,533.9 122.1,533.0 122.8,533.7 123.0,530.8 123.3,525.0 123.7,518.3 124.0,512.4 124.2,509.6 124.3,512.0 124.5,517.6 124.7,525.4 125.0,535.1 125.3,544.8 125.5,553.2 125.7,558.7 125.9,560.8 126.1,559.7 126.4,557.0 126.8,554.3 127.2,550.6 127.8,545.7 128.3,540.2 128.8,535.0 129.3,530.9 129.7,526.8 130.0,523.6 130.2,522.1 130.6,523.8 131.1,528.2 131.8,532.4 132.3,536.2 132.6,537.9 133.3,534.5 134.0,531.9 134.7,534.9 135.4,537.1 135.7,532.5 136.2,524.4 136.8,516.7 137.1,512.5 137.2,514.6 137.4,519.6 137.7,527.4 138.0,536.5 138.3,545.7 138.5,553.2 138.8,558.4 138.9,560.6 139.1,559.3 139.4,556.6 139.9,552.6 140.4,546.9 140.9,540.5 141.4,534.0 141.9,529.2 142.2,525.8 142.4,524.3 142.9,525.1 143.8,524.4 144.7,526.4 145.2,526.7 145.6,528.2 146.2,531.7 147.0,535.7 147.6,540.4 148.0,542.4 148.3,541.0 149.0,538.8 149.7,537.0 150.5,535.4 151.1,534.3 151.5,532.0 151.8,529.6 152.2,526.2 152.7,522.6 153.3,518.3 153.9,514.7 154.3,512.3 154.5,511.1 154.6,513.3 154.9,518.5 155.1,525.6 155.4,533.7 155.7,541.9 156.0,548.7 156.3,553.4 156.4,555.2 156.6,553.5 157.0,550.3 157.6,546.0 158.1,540.7 158.7,536.2 159.3,532.2 159.7,528.8 159.9,527.2 160.5,525.9 161.4,526.3 162.0,527.2 162.3,528.5 163.0,530.8 163.7,534.1 164.3,536.8 164.7,537.9 165.2,537.1 166.0,535.4 166.9,534.9 167.7,534.0 168.2,533.3 168.5,532.2 168.9,530.1 169.5,527.6 170.1,523.6 170.6,520.0 171.1,517.4 171.3,516.6 171.5,519.6 171.8,526.2 172.1,534.6 172.4,543.0 172.7,549.5 172.9,551.8 173.1,550.5 173.4,547.5 173.9,545.4 174.4,542.6 175.0,538.3 175.6,534.5 176.0,531.2 176.4,528.6 176.6,527.5 177.1,527.7 178.0,529.2 178.9,530.7 179.4,532.2 179.9,533.8 180.8,533.1 181.7,534.1 182.2,534.7 182.5,532.4 182.9,527.3 183.4,521.7 183.8,517.2 184.1,515.1 184.3,517.2 184.6,522.2 185.0,529.2 185.4,536.8 185.8,544.1 186.1,549.6 186.3,551.9 186.6,550.3 187.1,546.3 187.7,541.7 188.3,536.2 188.8,531.8 189.1,530.5 189.6,529.8 190.3,526.5 191.1,523.1 191.6,522.3 191.9,523.6 192.5,526.4 193.2,529.9 194.0,532.8 194.6,535.8 194.9,537.7 195.1,536.7 195.6,533.3 196.1,528.2 196.6,522.0 197.2,517.2 197.6,513.6 197.8,511.9 198.0,514.0 198.2,518.9 198.6,526.2 199.0,534.6 199.4,543.2 199.7,550.7 200.0,556.0 200.2,558.1 200.4,557.0 200.7,554.3 201.1,551.1 201.6,546.9 202.1,540.5 202.6,534.5 203.1,529.4 203.5,526.5 203.8,524.6 204.0,523.4 204.3,523.7 204.9,524.9 205.6,527.0 206.4,530.6 207.0,531.7 207.3,532.9 207.7,534.2 208.5,536.0 209.4,536.9 210.3,537.1 211.0,536.5 211.4,536.6 211.6,534.3 212.0,529.2 212.4,522.5 212.9,516.4 213.2,512.3 213.4,510.7 213.5,513.6 213.8,519.7 214.1,528.0 214.5,537.2 214.8,546.0 215.0,552.5 215.2,555.1 215.4,553.5 215.8,549.4 216.3,544.3 216.9,539.3 217.4,535.3 217.8,531.9 218.0,530.1 218.3,528.6 218.9,526.0 219.6,523.4 220.2,521.4 220.5,520.7 220.8,522.0 221.2,524.8 221.8,528.1 222.5,531.7 223.1,536.3 223.5,539.0 223.8,540.2 224.3,538.2 225.0,534.3 225.8,531.2 226.2,529.9 226.7,530.7 227.5,532.7 228.3,535.4 228.7,536.8 229.5,538.1 230.4,541.7 230.6,540.3 230.9,537.2 231.3,532.9 231.8,527.8 232.3,521.8 232.8,515.9 233.2,511.6 233.5,508.6 233.7,507.5 233.9,509.2 234.2,513.6 234.6,519.6 235.1,526.5 235.6,533.5 236.0,539.9 236.3,544.9 236.5,547.2 236.9,546.2 237.5,543.3 238.2,538.9 238.8,534.5 239.1,532.1 239.5,530.7 240.1,528.4 240.7,526.3 241.1,524.2 241.4,524.6 242.0,528.2 242.8,532.6 243.5,536.1 244.1,538.5 244.4,539.5 244.6,537.2 245.0,531.8 245.4,524.8 245.8,517.8 246.2,512.4 246.4,510.5 246.5,512.8 246.8,518.0 247.1,525.2 247.5,532.2 247.8,539.1 248.2,546.0 248.4,551.3 248.6,553.6 248.9,552.7 249.3,549.9 249.9,545.0 250.5,539.6 251.1,535.4 251.6,532.9 251.9,531.9 252.3,530.9 253.1,529.3 254.0,528.2 254.8,528.0 255.2,528.2 255.5,529.7 256.1,532.0 256.9,533.1 257.6,533.7 258.2,536.4 258.5,537.3 258.8,533.6 259.3,525.5 259.8,517.2 260.1,513.4 260.2,516.2 260.4,522.7 260.6,531.4 260.8,541.1 261.1,550.1 261.3,556.8 261.4,559.6 261.6,558.6 261.9,555.6 262.3,551.2 262.7,546.4 263.2,541.6 263.7,538.2 264.2,533.7 264.6,529.3 264.9,526.4 265.1,525.0 265.5,526.2 266.0,530.2 266.7,533.7 267.3,536.5 267.6,538.6 268.3,538.2 269.3,535.1 270.0,533.2 270.2,530.1 270.6,523.9 271.1,516.8 271.5,510.9 271.7,508.4 271.8,510.6 272.0,516.1 272.3,523.7 272.6,532.4 273.0,540.5 273.3,547.5 273.5,552.4 273.7,554.7 273.9,554.2 274.2,552.6 274.7,549.6 275.3,546.4 275.9,544.3 276.6,539.2 277.2,535.4 277.8,532.2 278.3,529.6 278.6,527.9 278.8,527.2 279.4,528.1 280.3,530.1 280.8,532.4 281.2,534.1 282.0,538.0 282.7,542.1 283.2,543.7 283.4,542.1 283.7,538.7 284.1,534.6 284.6,530.5 285.1,525.1 285.6,519.5 286.1,514.5 286.5,511.1 286.8,509.4 287.0,508.9 287.2,511.7 287.4,517.7 287.7,526.0 288.0,535.3 288.3,544.5 288.5,551.4 288.7,554.4 288.9,553.9 289.2,552.5 289.7,550.0 290.2,546.5 290.8,542.4 291.4,538.5 292.0,535.2 292.5,532.0 293.0,529.5 293.4,527.9 293.6,527.0 293.9,526.7 294.4,527.1 295.1,529.9 295.9,531.2 296.7,533.4 297.4,536.8 298.1,538.1 298.6,539.2 298.9,539.7 299.3,539.2 299.9,537.7 300.6,535.7 301.3,532.5 301.9,530.5 302.2,530.0 302.5,530.5 303.1,531.7 303.9,533.6 304.7,536.2 305.5,537.5 306.1,539.1 306.4,539.7 306.6,538.1 307.0,534.5 307.5,530.4 308.1,525.5 308.6,519.7 309.1,515.2 309.5,512.2 309.7,511.0 309.9,513.1 310.1,518.3 310.4,525.1 310.8,532.4 311.1,539.7 311.5,547.1 311.7,552.5 311.9,554.7 312.1,553.9 312.4,551.8 312.8,548.4 313.2,543.6 313.7,537.8 314.2,531.5 314.7,526.6 315.1,522.6 315.4,520.2 315.6,519.2 315.9,520.4 316.3,522.3 316.9,525.1 317.5,529.1 318.0,532.1 318.5,534.8 318.7,536.5 319.2,537.2 320.0,536.9 320.8,535.9 321.3,533.9 321.6,529.6 322.0,523.2 322.4,516.7 322.7,513.4 322.9,515.7 323.1,520.8 323.5,527.3 323.9,534.4 324.3,542.5 324.5,548.7 324.7,551.7 325.6,549.1 326.4,544.1 326.7,542.5 327.3,538.6 327.9,533.1 328.2,530.7 328.6,529.9 329.4,530.1 330.2,528.8 330.7,527.4 331.2,527.4 332.0,530.1 332.8,532.3 333.3,533.2 333.8,534.2 334.6,536.4 335.4,539.3 335.9,540.9 336.2,539.2 336.8,536.2 337.5,534.9 338.1,532.6 338.4,531.4 339.0,532.0 340.0,535.8 340.7,538.0 340.9,536.1 341.3,532.0 341.8,526.2 342.3,519.8 342.7,515.9 343.1,513.4 343.3,511.8 343.4,513.7 343.7,518.3 344.0,524.8 344.3,532.5 344.6,540.2 344.9,546.3 345.1,550.3 345.3,551.8 345.5,550.1 345.9,547.3 346.4,543.1 347.0,537.8 347.6,534.0 348.1,530.0 348.5,526.1 348.7,524.3 349.2,525.9 350.0,530.0 350.5,532.7 351.3,532.0 352.2,529.5 352.5,530.2 353.1,532.4 353.8,536.2 354.4,540.1 354.7,541.0 355.2,539.3 356.0,537.1 356.5,534.5 356.9,533.3 357.7,532.6 358.5,532.5 359.0,531.6 359.5,532.2 360.3,535.2 361.1,538.3 361.6,539.0 361.9,538.3 362.6,535.8 363.2,532.2 363.9,531.5 364.2,529.4 364.5,526.5 365.2,523.8 365.9,520.2 366.5,516.3 366.8,514.8 367.0,517.1 367.3,522.5 367.6,529.9 368.0,537.9 368.4,545.5 368.6,551.1 368.8,553.3 369.1,550.6 369.6,544.7 370.2,538.5 370.7,533.9 371.0,531.6 371.5,529.9 372.3,527.3 373.1,525.4 373.6,524.7 373.9,525.5 374.6,527.7 375.2,530.5 375.9,532.9 376.2,533.8 376.5,531.7 376.9,527.7 377.5,522.9 378.1,516.3 378.5,511.9 378.8,510.4 378.9,512.8 379.2,518.1 379.5,525.1 379.8,533.0 380.1,541.3 380.4,548.7 380.6,554.0 380.8,556.1 381.0,554.7 381.3,551.3 381.7,546.8 382.2,541.9 382.7,536.0 383.2,530.6 383.7,527.1 384.0,524.3 384.2,522.8 384.5,523.5 385.1,525.4 385.7,528.4 386.4,532.4 387.0,535.8 387.3,536.6 387.8,534.9 388.6,535.1 389.5,533.0 390.3,532.2 390.8,532.3 391.1,533.4 391.8,534.2 392.5,536.5 393.2,539.2 393.9,541.4 394.2,542.4 394.5,541.1 395.2,537.8 395.9,536.2 396.7,533.0 397.3,530.6 397.6,529.5 398.0,530.0 398.5,531.6 399.2,533.6 399.8,534.9 400.2,535.7 400.4,535.0 400.7,533.3 401.2,530.8 401.7,528.3 402.3,526.3 402.9,521.9 403.5,518.2 404.0,515.2 404.5,512.7 404.8,511.4 405.0,511.3 405.2,513.9 405.4,519.5 405.7,526.6 406.1,534.4 406.4,542.2 406.7,548.8 406.9,553.5 407.1,555.4 407.3,553.8 407.7,549.8 408.2,544.5 408.8,538.8 409.3,533.2 409.9,528.3 410.3,524.8 410.5,522.9 410.8,523.0 411.5,524.4 412.2,526.4 412.9,528.4 413.6,531.3 413.9,532.2 414.3,533.2 414.9,534.2 415.7,535.5 416.4,538.7 417.1,540.1 417.4,540.0 417.8,538.8 418.3,536.3 419.0,532.5 419.6,530.4 419.9,529.7 420.4,530.2 421.2,531.3 422.0,531.7 422.5,532.0 422.8,530.6 423.3,527.2 423.9,521.5 424.5,517.1 425.2,512.5 425.6,509.2 425.9,508.2 426.1,511.1 426.3,517.8 426.6,526.0 426.9,534.9 427.2,543.2 427.4,549.5 427.6,552.2 427.8,551.3 428.2,549.1 428.7,546.1 429.3,541.7 429.9,537.7 430.5,533.8 431.0,530.0 431.4,527.6 431.6,526.6 432.1,529.0 432.9,533.1 433.3,535.8" fill="none" stroke="#1c1c1c" stroke-width="1.1" stroke-linejoin="round" stroke-linecap="round"/>
<path d="M81.6,610.5 82.1,611.6 82.7,611.7 83.0,608.5 83.6,604.9 84.0,603.4 84.5,607.8 84.9,612.9 85.4,614.1 86.0,615.1 86.7,613.3 87.4,610.5 88.0,611.6 88.5,612.2 89.1,612.4 89.7,612.8 90.2,613.0 90.7,612.9 91.5,611.8 92.3,611.0 92.5,615.5 92.7,624.0 92.9,632.4 93.0,636.3 93.1,633.0 93.2,625.6 93.4,615.9 93.5,605.3 93.7,595.5 93.8,588.1 93.9,584.8 94.1,589.0 94.4,598.5 94.7,608.7 94.9,614.3 95.6,616.4 96.2,617.1 96.7,616.1 97.1,614.3 97.8,613.6 98.5,613.3 99.3,611.7 100.1,611.0 100.7,611.8 101.3,614.3 101.8,613.5 102.6,611.3 103.1,610.5 103.3,615.4 103.5,624.3 103.7,633.0 103.8,636.8 103.9,633.6 104.0,626.4 104.2,617.0 104.4,606.8 104.6,597.5 104.7,590.5 104.8,587.4 105.0,591.4 105.3,600.3 105.6,609.7 105.8,615.1 106.5,618.7 107.1,620.7 107.6,614.9 108.1,608.8 108.7,609.7 109.3,611.2 109.9,610.9 110.6,610.8 111.2,610.7 111.9,611.2 112.5,613.6 113.2,614.9 114.0,613.7 114.8,613.0 115.6,613.7 116.3,614.3 117.0,613.8 117.6,613.4 118.4,611.5 119.1,612.0 119.9,610.2 120.6,610.3 120.8,615.4 121.0,624.6 121.2,633.4 121.3,637.4 121.4,634.3 121.5,627.2 121.7,617.8 121.9,607.7 122.1,598.4 122.3,591.5 122.4,588.4 122.6,592.3 122.9,601.2 123.2,610.5 123.4,615.5 124.0,618.3 124.7,619.5 125.0,616.5 125.4,610.8 125.9,605.4 126.2,602.9 126.9,606.4 127.7,609.8 128.2,611.6 128.8,613.9 129.2,608.4 129.7,603.1 130.4,606.5 131.1,609.2 131.9,610.0 132.7,610.1 133.2,608.7 133.8,607.3 134.5,607.7 135.2,609.9 135.4,615.0 135.6,624.1 135.8,632.9 135.9,636.8 136.0,633.7 136.1,626.8 136.3,617.7 136.4,607.9 136.6,598.8 136.7,592.0 136.8,589.0 137.0,592.9 137.3,601.6 137.6,610.7 137.8,615.4 138.4,617.1 139.1,618.7 139.6,614.4 140.1,609.8 140.6,608.6 141.1,607.9 141.7,611.8 142.3,614.3 142.8,612.8 143.4,610.9 144.1,610.7 144.8,610.8 145.5,613.5 146.1,614.5 146.7,613.2 147.3,612.2 147.9,613.6 148.4,614.5 149.1,610.6 149.7,606.9 150.4,607.0 151.0,607.0 151.7,607.3 152.4,607.4 153.0,609.6 153.6,611.6 154.0,609.1 154.6,604.6 155.0,602.2 155.6,604.0 156.6,607.1 157.2,610.3 157.4,615.6 157.6,624.8 157.8,633.2 157.9,636.9 158.0,633.6 158.1,626.3 158.3,616.6 158.5,606.1 158.7,596.7 158.8,589.6 158.9,586.5 159.1,590.8 159.4,600.4 159.7,610.4 159.9,615.9 160.5,617.0 161.2,617.1 161.9,615.6 162.6,614.1 163.2,613.0 163.8,611.8 164.4,610.9 164.9,609.8 165.6,609.2 166.3,610.1 167.0,607.8 167.7,607.3 168.4,608.2 169.4,610.6 170.1,611.9 170.3,616.1 170.5,624.3 170.7,632.7 170.8,636.5 170.9,633.6 171.0,627.1 171.2,618.2 171.4,608.2 171.6,598.9 171.8,592.0 171.9,588.9 172.1,592.7 172.4,601.6 172.7,610.8 172.9,615.9 173.5,619.6 174.2,621.6 174.8,615.6 175.3,609.6 175.8,608.6 176.4,608.0 177.1,607.7 177.8,608.0 178.3,610.9 178.9,613.6 179.7,610.6 180.4,607.6 181.1,610.8 181.8,614.2 182.3,611.0 182.8,607.5 183.3,610.0 183.9,613.2 184.4,611.5 184.9,609.7 185.6,611.8 186.2,613.5 186.7,611.4 187.2,609.1 187.7,609.2 188.3,609.4 189.2,609.4 190.0,610.9 190.2,615.9 190.4,625.1 190.6,633.7 190.7,637.4 190.8,634.8 190.9,628.8 191.1,620.6 191.3,611.5 191.5,602.7 191.7,594.9 191.8,589.3 191.9,586.9 192.1,591.2 192.4,600.5 192.7,610.2 192.9,615.4 193.5,616.1 194.2,615.3 194.8,614.6 195.4,614.1 195.8,614.3 196.3,614.2 197.1,612.3 197.9,611.3 198.7,609.8 199.4,608.9 200.2,610.7 200.9,611.7 201.5,610.5 202.0,609.5 202.5,610.8 203.0,612.1 203.7,609.8 204.4,607.0 205.1,610.3 205.8,614.8 206.4,614.7 207.2,613.6 207.7,613.4 207.9,618.1 208.1,626.7 208.3,635.0 208.4,638.7 208.5,634.9 208.7,626.5 208.9,615.5 209.1,604.2 209.3,595.4 209.4,591.3 209.7,596.7 210.1,607.7 210.4,614.6 211.0,616.6 211.7,617.6 212.1,615.1 212.6,609.8 213.0,607.1 213.5,608.9 214.0,610.2 214.7,610.4 215.3,610.4 215.9,610.3 216.6,610.5 217.4,611.0 218.1,610.7 218.7,609.7 219.3,609.2 220.0,607.8 220.7,608.1 221.5,611.8 222.3,614.2 222.8,612.7 223.7,610.5 224.2,609.8 224.4,614.9 224.6,624.6 224.8,633.9 224.9,638.1 225.0,635.6 225.1,630.1 225.3,622.4 225.5,613.7 225.8,604.8 226.0,596.9 226.1,591.2 226.2,588.6 226.4,592.5 226.7,601.5 227.0,610.8 227.2,615.9 227.8,616.4 228.5,616.6 228.9,613.0 229.5,606.7 229.8,603.1 230.4,605.6 230.9,609.0 231.5,610.0 232.1,610.8 232.8,610.5 233.5,610.6 233.7,617.1 234.0,627.3 234.2,632.6 234.3,629.7 234.5,623.4 234.7,615.1 235.0,606.1 235.2,597.8 235.4,592.0 235.5,589.5 235.7,593.5 236.0,602.2 236.3,610.4 236.5,614.9 237.2,616.9 237.8,617.7 238.3,612.2 238.7,607.9 239.2,612.0 239.7,614.8 240.2,612.6 240.6,610.6 241.2,610.4 241.8,610.3 242.6,610.0 243.4,611.6 243.6,616.6 243.8,625.5 244.0,634.0 244.1,637.7 244.2,634.2 244.3,626.7 244.5,616.7 244.7,605.8 244.9,596.0 245.1,588.7 245.2,585.5 245.4,589.7 245.7,599.4 246.0,609.8 246.2,615.6 246.8,618.6 247.5,619.5 248.1,614.2 248.7,608.2 249.1,610.0 249.6,612.0 250.2,609.8 250.8,608.1 251.4,610.0 252.0,611.6 252.5,613.1 253.1,614.0 253.7,613.4 254.5,611.7 255.0,611.5 255.2,616.4 255.4,625.5 255.6,634.3 255.7,638.3 255.8,634.9 255.9,627.3 256.1,617.2 256.3,606.4 256.5,596.3 256.7,588.9 256.8,585.6 257.0,589.9 257.3,599.7 257.6,610.0 257.8,615.8 258.2,619.2 258.7,622.3 259.1,623.4 259.7,617.5 260.3,611.2 260.9,612.0 261.5,611.9 262.0,611.5 262.5,611.3 263.0,611.3 263.5,611.2 264.2,613.3 265.0,614.9 265.8,613.5 266.5,613.6 267.1,611.2 267.7,608.4 268.4,610.9 269.1,613.5 269.8,613.3 270.5,613.7 271.0,608.7 271.4,603.6 271.9,603.3 272.4,603.0 272.9,605.3 273.4,608.2 273.9,608.1 274.4,607.8 274.9,611.0 275.4,614.1 276.0,613.6 276.8,612.5 277.3,612.1 277.5,618.7 277.8,629.3 278.0,635.0 278.1,631.6 278.2,624.4 278.4,614.7 278.6,604.2 278.8,594.6 279.0,587.4 279.1,584.3 279.3,588.7 279.6,598.7 279.9,609.1 280.1,614.9 280.5,618.1 281.0,621.8 281.4,624.1 281.9,621.1 282.5,614.7 283.0,611.1 283.4,611.8 283.9,612.6 284.6,610.2 285.3,607.7 286.1,607.8 286.8,607.3 287.5,610.0 288.1,613.1 288.7,611.0 289.2,608.5 289.9,609.3 290.6,610.3 291.2,609.2 291.8,608.9 292.3,609.8 292.7,611.0 293.3,612.4 293.9,613.5 294.6,613.6 295.3,613.1 295.9,611.9 296.6,611.3 297.0,609.2 297.7,605.3 298.1,603.2 298.5,605.9 299.1,611.3 299.5,614.8 300.1,613.7 300.7,612.3 300.8,617.0 301.0,625.7 301.3,634.1 301.4,637.9 301.5,635.3 301.6,629.4 301.8,621.0 302.0,611.6 302.2,602.2 302.4,593.8 302.5,588.1 302.6,585.6 302.8,589.9 303.1,599.4 303.4,609.3 303.6,614.7 304.2,617.0 304.9,617.5 305.3,615.5 305.9,611.0 306.3,607.8 306.8,610.0 307.3,612.4 307.9,612.5 308.4,612.7 308.9,612.8 309.5,612.5 310.3,613.0 311.0,612.0 311.5,609.8 312.1,608.0 312.6,608.5 313.2,609.0 313.9,609.7 314.6,611.7 314.7,616.5 315.0,625.3 315.2,633.7 315.3,637.5 315.4,634.1 315.6,626.5 315.8,616.4 316.0,605.5 316.2,595.8 316.4,588.5 316.5,585.3 316.7,589.9 317.0,599.7 317.3,609.6 317.5,615.1 318.1,617.6 318.8,619.0 319.2,616.4 319.8,611.1 320.2,607.9 320.9,609.2 321.5,612.3 322.2,612.9 323.0,614.2 323.6,613.7 324.2,613.0 324.8,613.7 325.4,612.8 326.0,610.3 326.6,608.4 327.3,610.7 328.0,612.9 328.8,611.4 329.5,609.3 330.0,608.3 330.6,607.9 331.3,611.1 332.1,613.3 332.8,611.9 333.6,610.4 334.3,605.8 335.0,603.2 335.7,606.5 336.5,609.0 337.1,605.9 337.8,603.1 338.4,605.8 338.9,609.8 339.5,610.9 340.0,611.8 340.6,606.9 341.1,603.0 341.7,603.8 342.2,603.1 342.7,605.3 343.4,609.7 343.8,613.4 344.0,618.4 344.2,626.6 344.4,634.2 344.5,637.5 344.6,633.8 344.8,625.8 345.0,616.0 345.2,605.5 345.4,595.9 345.6,588.7 345.7,585.2 345.9,589.1 346.2,598.4 346.5,608.5 346.7,614.5 347.3,618.1 348.0,619.3 348.4,616.6 349.1,611.3 349.5,607.6 350.1,610.9 350.7,613.9 351.2,613.2 351.8,612.4 352.5,610.2 353.3,608.5 354.1,610.3 354.8,612.1 355.6,611.1 356.3,610.4 356.5,615.5 356.7,625.1 356.9,634.1 357.0,638.0 357.1,635.4 357.2,629.6 357.4,621.7 357.6,612.8 357.9,604.2 358.1,596.6 358.2,591.0 358.3,588.6 358.5,592.4 358.8,600.6 359.1,609.2 359.3,614.1 359.9,617.0 360.6,619.1 361.0,617.1 361.5,613.1 361.8,610.2 362.5,610.2 363.2,610.6 363.9,611.2 364.6,611.7 365.3,611.9 366.1,612.2 366.9,609.9 367.6,608.1 368.3,610.0 369.0,612.7 369.2,618.7 369.5,628.2 369.7,633.1 369.8,629.3 370.0,621.0 370.3,610.5 370.6,600.0 370.8,591.8 370.9,588.2 371.1,592.0 371.4,600.7 371.7,609.6 371.9,614.6 372.5,618.6 373.2,620.1 373.6,617.4 374.1,614.3 374.5,612.0 375.1,610.2 375.7,609.6 376.2,611.2 376.7,612.8 377.3,613.1 378.0,612.9 378.5,611.2 379.1,610.1 379.5,610.8 380.0,611.5 380.7,610.3 381.4,609.9 382.0,610.6 382.6,611.3 383.4,611.1 384.1,610.9 384.3,615.8 384.5,624.9 384.7,633.7 384.8,637.7 384.9,634.9 385.1,628.5 385.3,620.0 385.6,610.7 385.8,601.8 386.0,595.0 386.1,591.9 386.4,597.1 386.8,607.6 387.1,614.3 387.7,618.4 388.4,619.9 388.8,616.1 389.5,611.7 389.9,608.5 390.4,608.4 390.9,607.8 391.6,607.9 392.3,608.5 392.8,610.3 393.5,613.5 394.1,612.7 395.1,611.7 395.7,611.4 395.9,617.3 396.2,627.3 396.4,632.8 396.5,629.9 396.7,623.7 396.9,615.1 397.1,605.4 397.3,596.5 397.5,589.8 397.6,586.8 397.8,590.9 398.1,600.0 398.4,609.4 398.6,615.0 399.2,618.7 399.9,619.5 400.3,616.6 400.8,611.6 401.2,608.5 401.7,609.8 402.2,611.5 402.8,609.8 403.3,608.2 403.7,611.2 404.2,613.8 404.8,613.0 405.8,613.5 406.4,612.7 406.6,617.3 406.8,625.9 407.0,634.1 407.1,637.8 407.2,634.7 407.4,627.2 407.6,617.2 407.8,606.5 408.0,596.7 408.2,590.0 408.3,587.1 408.5,591.7 408.8,601.4 409.1,610.2 409.3,614.9 409.9,616.3 410.6,617.0 411.2,614.2 411.8,612.1 412.4,612.1 413.5,612.4 414.1,612.8 414.3,619.3 414.6,629.7 414.8,635.0 414.9,632.4 415.0,626.6 415.2,618.7 415.4,609.9 415.7,601.1 415.9,593.4 416.0,587.8 416.1,585.4 416.3,589.6 416.6,599.0 416.9,609.0 417.1,614.7 417.7,617.8 418.4,618.9 419.2,615.7 420.0,612.2 420.7,611.8 421.5,611.2 422.2,608.5 422.9,607.1 423.6,608.9 424.3,610.2 424.9,608.8 425.5,607.7 425.9,609.2 426.4,611.0 427.0,611.6 427.6,611.4 428.4,611.3 429.2,612.8 429.4,617.5 429.6,626.1 429.8,634.2 429.9,637.7 430.0,635.0 430.2,629.2 430.4,621.3 430.6,612.6 430.9,604.0 431.1,596.5 431.3,590.9 431.4,588.5 431.6,592.4 431.9,601.2 432.2,610.2 432.4,615.0 433.1,615.5 433.7,615.5" fill="none" stroke="#1c1c1c" stroke-width="1.1" stroke-linejoin="round" stroke-linecap="round"/>
<line x1="557.8" y1="24.5" x2="557.8" y2="276.6" stroke="#000" stroke-width="1.8"/>
<line x1="551.8" y1="275.7" x2="557.8" y2="275.7" stroke="#000" stroke-width="1.6"/>
<text x="540.9" y="282.47" font-family="Liberation Sans" font-size="14.4" font-weight="normal" font-style="normal" text-anchor="end" fill="#000" textLength="8.2" lengthAdjust="spacingAndGlyphs">0</text>
<line x1="551.8" y1="239.94" x2="557.8" y2="239.94" stroke="#000" stroke-width="1.6"/>
<text x="540.9" y="246.71" font-family="Liberation Sans" font-size="14.4" font-weight="normal" font-style="normal" text-anchor="end" fill="#000" textLength="16.4" lengthAdjust="spacingAndGlyphs">20</text>
<line x1="551.8" y1="204.19" x2="557.8" y2="204.19" stroke="#000" stroke-width="1.6"/>
<text x="540.9" y="210.95" font-family="Liberation Sans" font-size="14.4" font-weight="normal" font-style="normal" text-anchor="end" fill="#000" textLength="16.4" lengthAdjust="spacingAndGlyphs">40</text>
<line x1="551.8" y1="168.43" x2="557.8" y2="168.43" stroke="#000" stroke-width="1.6"/>
<text x="540.9" y="175.2" font-family="Liberation Sans" font-size="14.4" font-weight="normal" font-style="normal" text-anchor="end" fill="#000" textLength="16.4" lengthAdjust="spacingAndGlyphs">60</text>
<line x1="551.8" y1="132.67" x2="557.8" y2="132.67" stroke="#000" stroke-width="1.6"/>
<text x="540.9" y="139.44" font-family="Liberation Sans" font-size="14.4" font-weight="normal" font-style="normal" text-anchor="end" fill="#000" textLength="16.4" lengthAdjust="spacingAndGlyphs">80</text>
<line x1="551.8" y1="96.91" x2="557.8" y2="96.91" stroke="#000" stroke-width="1.6"/>
<text x="540.9" y="103.68" font-family="Liberation Sans" font-size="14.4" font-weight="normal" font-style="normal" text-anchor="end" fill="#000" textLength="24.6" lengthAdjust="spacingAndGlyphs">100</text>
<line x1="551.8" y1="61.16" x2="557.8" y2="61.16" stroke="#000" stroke-width="1.6"/>
<text x="540.9" y="67.93" font-family="Liberation Sans" font-size="14.4" font-weight="normal" font-style="normal" text-anchor="end" fill="#000" textLength="24.6" lengthAdjust="spacingAndGlyphs">120</text>
<line x1="551.8" y1="25.4" x2="557.8" y2="25.4" stroke="#000" stroke-width="1.6"/>
<text x="540.9" y="32.17" font-family="Liberation Sans" font-size="14.4" font-weight="normal" font-style="normal" text-anchor="end" fill="#000" textLength="24.6" lengthAdjust="spacingAndGlyphs">140</text>
<line x1="556.9" y1="275.7" x2="786.2" y2="275.7" stroke="#000" stroke-width="1.8"/>
<line x1="557.8" y1="275.7" x2="557.8" y2="281.7" stroke="#000" stroke-width="1.6"/>
<line x1="785.3" y1="275.7" x2="785.3" y2="281.7" stroke="#000" stroke-width="1.6"/>
<line x1="608.85" y1="71.17" x2="608.85" y2="64.38" stroke="#333" stroke-width="1"/>
<line x1="603.85" y1="64.38" x2="613.85" y2="64.38" stroke="#333" stroke-width="1"/>
<rect x="588.4" y="71.17" width="40.9" height="204.53" fill="#fff" stroke="none"/>
<rect x="588.4" y="71.17" width="40.9" height="204.53" fill="url(#pw)" stroke="#000" stroke-width="1.1"/>
<text x="608.7" y="59.5" font-family="Liberation Sans" font-size="15.8" font-weight="normal" font-style="normal" text-anchor="middle" fill="#000" >b</text>
<line x1="650.45" y1="132.67" x2="650.45" y2="109.43" stroke="#333" stroke-width="1"/>
<line x1="645.45" y1="109.43" x2="655.45" y2="109.43" stroke="#333" stroke-width="1"/>
<rect x="629.3" y="132.67" width="42.3" height="143.03" fill="#fff" stroke="none"/>
<rect x="629.3" y="132.67" width="42.3" height="143.03" fill="url(#pf1)" stroke="#000" stroke-width="1.1"/>
<text x="650.7" y="99.6" font-family="Liberation Sans" font-size="15.8" font-weight="normal" font-style="normal" text-anchor="middle" fill="#000" >a</text>
<line x1="692.05" y1="122.3" x2="692.05" y2="105.5" stroke="#333" stroke-width="1"/>
<line x1="687.05" y1="105.5" x2="697.05" y2="105.5" stroke="#333" stroke-width="1"/>
<rect x="671.6" y="122.3" width="40.9" height="153.4" fill="#fff" stroke="none"/>
<rect x="671.6" y="122.3" width="40.9" height="153.4" fill="url(#pf9h)" stroke="#000" stroke-width="1.1"/>
<text x="691.6" y="97.8" font-family="Liberation Sans" font-size="15.8" font-weight="normal" font-style="normal" text-anchor="middle" fill="#000" >a</text>
<line x1="733" y1="132.67" x2="733" y2="125.52" stroke="#333" stroke-width="1"/>
<line x1="728" y1="125.52" x2="738" y2="125.52" stroke="#333" stroke-width="1"/>
<rect x="712.5" y="132.67" width="41" height="143.03" fill="#fff" stroke="none"/>
<rect x="712.5" y="132.67" width="41" height="143.03" fill="url(#pf9l)" stroke="#000" stroke-width="1.1"/>
<text x="732.9" y="118" font-family="Liberation Sans" font-size="15.8" font-weight="normal" font-style="normal" text-anchor="middle" fill="#000" >a</text>
<text x="614.2" y="302.6" font-family="Liberation Sans" font-size="17" font-weight="normal" font-style="normal" text-anchor="middle" fill="#000" textLength="18.2" lengthAdjust="spacingAndGlyphs">18</text>
<text x="654.2" y="302.6" font-family="Liberation Sans" font-size="17" font-weight="normal" font-style="normal" text-anchor="middle" fill="#000" textLength="18.2" lengthAdjust="spacingAndGlyphs">20</text>
<text x="697" y="302.6" font-family="Liberation Sans" font-size="17" font-weight="normal" font-style="normal" text-anchor="middle" fill="#000" textLength="18.2" lengthAdjust="spacingAndGlyphs">13</text>
<text x="740.9" y="302.6" font-family="Liberation Sans" font-size="17" font-weight="normal" font-style="normal" text-anchor="middle" fill="#000" textLength="18.2" lengthAdjust="spacingAndGlyphs">17</text>
<text x="624.8" y="327.8" font-family="Liberation Sans" font-size="18.4" fill="#000" textLength="88" lengthAdjust="spacingAndGlyphs"><tspan font-style="italic">myo</tspan>-Inositol</text>
<text transform="translate(505.9,133.5) rotate(-90)" font-family="Liberation Sans" font-size="15" text-anchor="middle" fill="#000" textLength="132.5" lengthAdjust="spacingAndGlyphs">Mean spikes/s + SE</text>
<rect x="707.5" y="13.5" width="8.5" height="8.5" fill="url(#pw)" stroke="#000" stroke-width="1"/>
<text x="721.2" y="22.66" font-family="Liberation Sans" font-size="14.2" font-weight="normal" font-style="italic" text-anchor="start" fill="#000" textLength="29.5" lengthAdjust="spacingAndGlyphs">Wild</text>
<rect x="707.5" y="35.5" width="8.5" height="8.5" fill="url(#pf1)" stroke="#000" stroke-width="1"/>
<text x="721.2" y="44.46" font-family="Liberation Sans" font-size="14.2" font-weight="normal" font-style="italic" text-anchor="start" fill="#000" textLength="43.5" lengthAdjust="spacingAndGlyphs">F1-HS</text>
<rect x="707.5" y="56.5" width="8.5" height="8.5" fill="url(#pf9h)" stroke="#000" stroke-width="1"/>
<text x="721.2" y="66.26" font-family="Liberation Sans" font-size="14.2" font-weight="normal" font-style="italic" text-anchor="start" fill="#000" textLength="43.5" lengthAdjust="spacingAndGlyphs">F9-HS</text>
<rect x="707.5" y="78.5" width="8.5" height="8.5" fill="url(#pf9l)" stroke="#000" stroke-width="1"/>
<text x="721.2" y="88.06" font-family="Liberation Sans" font-size="14.2" font-weight="normal" font-style="italic" text-anchor="start" fill="#000" textLength="41" lengthAdjust="spacingAndGlyphs">F9-LS</text>
<line x1="557.8" y1="371.6" x2="557.8" y2="628.4" stroke="#000" stroke-width="1.8"/>
<line x1="551.8" y1="627.5" x2="557.8" y2="627.5" stroke="#000" stroke-width="1.6"/>
<text x="541.8" y="633.89" font-family="Liberation Sans" font-size="13.6" font-weight="normal" font-style="normal" text-anchor="end" fill="#000" textLength="7.73" lengthAdjust="spacingAndGlyphs">0</text>
<line x1="551.8" y1="591.07" x2="557.8" y2="591.07" stroke="#000" stroke-width="1.6"/>
<text x="541.8" y="597.46" font-family="Liberation Sans" font-size="13.6" font-weight="normal" font-style="normal" text-anchor="end" fill="#000" textLength="15.47" lengthAdjust="spacingAndGlyphs">20</text>
<line x1="551.8" y1="554.64" x2="557.8" y2="554.64" stroke="#000" stroke-width="1.6"/>
<text x="541.8" y="561.03" font-family="Liberation Sans" font-size="13.6" font-weight="normal" font-style="normal" text-anchor="end" fill="#000" textLength="15.47" lengthAdjust="spacingAndGlyphs">40</text>
<line x1="551.8" y1="518.21" x2="557.8" y2="518.21" stroke="#000" stroke-width="1.6"/>
<text x="541.8" y="524.61" font-family="Liberation Sans" font-size="13.6" font-weight="normal" font-style="normal" text-anchor="end" fill="#000" textLength="15.47" lengthAdjust="spacingAndGlyphs">60</text>
<line x1="551.8" y1="481.79" x2="557.8" y2="481.79" stroke="#000" stroke-width="1.6"/>
<text x="541.8" y="488.18" font-family="Liberation Sans" font-size="13.6" font-weight="normal" font-style="normal" text-anchor="end" fill="#000" textLength="15.47" lengthAdjust="spacingAndGlyphs">80</text>
<line x1="551.8" y1="445.36" x2="557.8" y2="445.36" stroke="#000" stroke-width="1.6"/>
<text x="541.8" y="451.75" font-family="Liberation Sans" font-size="13.6" font-weight="normal" font-style="normal" text-anchor="end" fill="#000" textLength="23.2" lengthAdjust="spacingAndGlyphs">100</text>
<line x1="551.8" y1="408.93" x2="557.8" y2="408.93" stroke="#000" stroke-width="1.6"/>
<text x="541.8" y="415.32" font-family="Liberation Sans" font-size="13.6" font-weight="normal" font-style="normal" text-anchor="end" fill="#000" textLength="23.2" lengthAdjust="spacingAndGlyphs">120</text>
<line x1="551.8" y1="372.5" x2="557.8" y2="372.5" stroke="#000" stroke-width="1.6"/>
<text x="541.8" y="378.89" font-family="Liberation Sans" font-size="13.6" font-weight="normal" font-style="normal" text-anchor="end" fill="#000" textLength="23.2" lengthAdjust="spacingAndGlyphs">140</text>
<line x1="556.9" y1="627.5" x2="774.2" y2="627.5" stroke="#000" stroke-width="1.8"/>
<line x1="557.8" y1="627.5" x2="557.8" y2="633.5" stroke="#000" stroke-width="1.6"/>
<line x1="773.3" y1="627.5" x2="773.3" y2="633.5" stroke="#000" stroke-width="1.6"/>
<line x1="606.1" y1="500.36" x2="606.1" y2="486.34" stroke="#333" stroke-width="1"/>
<line x1="601.1" y1="486.34" x2="611.1" y2="486.34" stroke="#333" stroke-width="1"/>
<rect x="586.5" y="500.36" width="39.2" height="127.14" fill="#fff" stroke="none"/>
<rect x="586.5" y="500.36" width="39.2" height="127.14" fill="url(#pw)" stroke="#000" stroke-width="1.1"/>
<text x="606.6" y="480.6" font-family="Liberation Sans" font-size="15.8" font-weight="normal" font-style="normal" text-anchor="middle" fill="#000" >a</text>
<line x1="645.6" y1="493.99" x2="645.6" y2="481.42" stroke="#333" stroke-width="1"/>
<line x1="640.6" y1="481.42" x2="650.6" y2="481.42" stroke="#333" stroke-width="1"/>
<rect x="625.7" y="493.99" width="39.8" height="133.51" fill="#fff" stroke="none"/>
<rect x="625.7" y="493.99" width="39.8" height="133.51" fill="url(#pf1)" stroke="#000" stroke-width="1.1"/>
<text x="646.8" y="475.9" font-family="Liberation Sans" font-size="15.8" font-weight="normal" font-style="normal" text-anchor="middle" fill="#000" >a</text>
<line x1="685.4" y1="498.91" x2="685.4" y2="492.71" stroke="#333" stroke-width="1"/>
<line x1="680.4" y1="492.71" x2="690.4" y2="492.71" stroke="#333" stroke-width="1"/>
<rect x="665.5" y="498.91" width="39.8" height="128.59" fill="#fff" stroke="none"/>
<rect x="665.5" y="498.91" width="39.8" height="128.59" fill="url(#pf9h)" stroke="#000" stroke-width="1.1"/>
<text x="686.2" y="484.5" font-family="Liberation Sans" font-size="15.8" font-weight="normal" font-style="normal" text-anchor="middle" fill="#000" >a</text>
<line x1="724.9" y1="510.93" x2="724.9" y2="503.28" stroke="#333" stroke-width="1"/>
<line x1="719.9" y1="503.28" x2="729.9" y2="503.28" stroke="#333" stroke-width="1"/>
<rect x="705.3" y="510.93" width="39.2" height="116.57" fill="#fff" stroke="none"/>
<rect x="705.3" y="510.93" width="39.2" height="116.57" fill="url(#pf9l)" stroke="#000" stroke-width="1.1"/>
<text x="725.8" y="495" font-family="Liberation Sans" font-size="15.8" font-weight="normal" font-style="normal" text-anchor="middle" fill="#000" >a</text>
<text x="602" y="656.9" font-family="Liberation Sans" font-size="17" font-weight="normal" font-style="normal" text-anchor="middle" fill="#000" textLength="18.2" lengthAdjust="spacingAndGlyphs">15</text>
<text x="640.7" y="656.9" font-family="Liberation Sans" font-size="17" font-weight="normal" font-style="normal" text-anchor="middle" fill="#000" textLength="18.2" lengthAdjust="spacingAndGlyphs">20</text>
<text x="683" y="656.9" font-family="Liberation Sans" font-size="17" font-weight="normal" font-style="normal" text-anchor="middle" fill="#000" textLength="18.2" lengthAdjust="spacingAndGlyphs">16</text>
<text x="726.5" y="656.9" font-family="Liberation Sans" font-size="17" font-weight="normal" font-style="normal" text-anchor="middle" fill="#000" textLength="18.2" lengthAdjust="spacingAndGlyphs">15</text>
<text x="640.2" y="680.0" font-family="Liberation Sans" font-size="17" fill="#000" textLength="54.4" lengthAdjust="spacingAndGlyphs">Sinigrin</text>
<text transform="translate(507.4,494) rotate(-90)" font-family="Liberation Sans" font-size="15.2" text-anchor="middle" fill="#000" textLength="134.6" lengthAdjust="spacingAndGlyphs">Mean spikes/s + SE</text>
<rect x="693.5" y="374.5" width="7.5" height="7.5" fill="url(#pw)" stroke="#000" stroke-width="1"/>
<text x="706.8" y="381.6" font-family="Liberation Sans" font-size="13.2" font-weight="normal" font-style="italic" text-anchor="start" fill="#000" textLength="27.5" lengthAdjust="spacingAndGlyphs">Wild</text>
<rect x="693.5" y="396.5" width="7.5" height="7.5" fill="url(#pf1)" stroke="#000" stroke-width="1"/>
<text x="706.8" y="403.87" font-family="Liberation Sans" font-size="13.2" font-weight="normal" font-style="italic" text-anchor="start" fill="#000" textLength="41.8" lengthAdjust="spacingAndGlyphs">F1-HS</text>
<rect x="693.5" y="418.5" width="7.5" height="7.5" fill="url(#pf9h)" stroke="#000" stroke-width="1"/>
<text x="706.8" y="426.14" font-family="Liberation Sans" font-size="13.2" font-weight="normal" font-style="italic" text-anchor="start" fill="#000" textLength="41.8" lengthAdjust="spacingAndGlyphs">F9-HS</text>
<rect x="693.5" y="440.5" width="7.5" height="7.5" fill="url(#pf9l)" stroke="#000" stroke-width="1"/>
<text x="706.8" y="448.41" font-family="Liberation Sans" font-size="13.2" font-weight="normal" font-style="italic" text-anchor="start" fill="#000" textLength="39.5" lengthAdjust="spacingAndGlyphs">F9-LS</text>
</svg></body></html>
